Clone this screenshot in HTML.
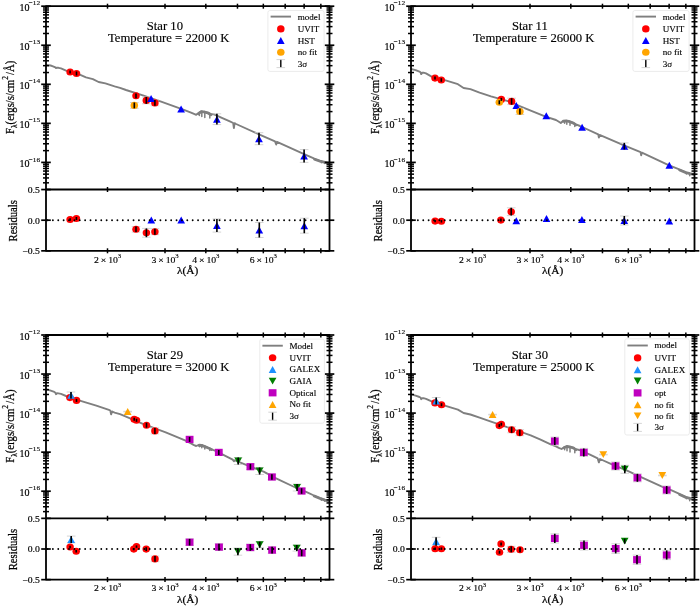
<!DOCTYPE html>
<html><head><meta charset="utf-8"><title>SED fits</title>
<style>html,body{margin:0;padding:0;background:#fff;}body{width:700px;height:606px;overflow:hidden;}svg{display:block;will-change:transform;}</style>
</head><body>
<svg width="700" height="606" viewBox="0 0 700 606" font-family='"Liberation Serif", serif' stroke-linejoin="round">
<rect width="700" height="606" fill="#fff"/>
<clipPath id="c00"><rect x="46" y="6.2" width="283.5" height="183.3"/></clipPath>
<g clip-path="url(#c00)">
<path d="M46 65 L50.6 65.5 L53 66.3 L55.4 67.4 L56 68.1 L57 67.6 L58.5 67.8 L61 68.4 L66.6 70.8 L80.3 74.9 L86 77.4 L92.9 79.1 L98.6 82 L105.4 83.4 L114.6 86.3 L120 87.8 L126 90 L142.9 95.4 L161.1 101.7 L184 109.9 L191 112.6 L194 113.9 L196.2 114.8 L198.2 113.2 L201 111.2 L203.8 111.4 L207.8 112.4 L211 114.2 L213.4 114.2 L215.8 115.2 L221.3 117.7 L230.4 121.7 L233.2 123 L233.9 128 L234.6 123.2 L236.1 124 L259 134.3 L275 141.3 L276.2 144.5 L277 141.8 L304.1 154.1 L314.4 158.7 L320 160.7 L325 162 L329.5 163" fill="none" stroke="#7f7f7f" stroke-width="1.9" stroke-linejoin="round"/>
<path d="M198.2 113.9 L201 111.9 L203.8 112.1 L207.8 113.1 L211 114.9" fill="none" stroke="#7f7f7f" stroke-width="2.4" stroke-linejoin="round" stroke-linecap="round"/>
<path d="M314.4 159.4 L320 161.4 L325 162.7 L329.5 163.7" fill="none" stroke="#7f7f7f" stroke-width="2.4" stroke-linejoin="round" stroke-linecap="round"/>
<line x1="199.4" y1="112.3" x2="199.4" y2="115.4" stroke="#7f7f7f" stroke-width="1.5" stroke-linecap="round"/>
<line x1="201.8" y1="111.2" x2="201.8" y2="116.6" stroke="#7f7f7f" stroke-width="1.5" stroke-linecap="round"/>
<line x1="204.8" y1="111.5" x2="204.8" y2="117.6" stroke="#7f7f7f" stroke-width="1.5" stroke-linecap="round"/>
<line x1="209.8" y1="113.6" x2="209.8" y2="118" stroke="#7f7f7f" stroke-width="1.5" stroke-linecap="round"/>
<line x1="321.4" y1="161" x2="321.4" y2="162.8" stroke="#7f7f7f" stroke-width="1.5" stroke-linecap="round"/>
<line x1="324.7" y1="162" x2="324.7" y2="163.6" stroke="#7f7f7f" stroke-width="1.5" stroke-linecap="round"/>
</g>
<line x1="142" y1="97" x2="150.6" y2="97" stroke="#d0d0d0" stroke-width="0.9"/><line x1="142" y1="103.8" x2="150.6" y2="103.8" stroke="#d0d0d0" stroke-width="0.9"/>
<line x1="150.6" y1="100" x2="159.2" y2="100" stroke="#d0d0d0" stroke-width="0.9"/><line x1="150.6" y1="105.8" x2="159.2" y2="105.8" stroke="#d0d0d0" stroke-width="0.9"/>
<line x1="212.6" y1="113.8" x2="221.2" y2="113.8" stroke="#d0d0d0" stroke-width="0.9"/><line x1="212.6" y1="124.6" x2="221.2" y2="124.6" stroke="#d0d0d0" stroke-width="0.9"/>
<line x1="254.7" y1="132.7" x2="263.3" y2="132.7" stroke="#d0d0d0" stroke-width="0.9"/><line x1="254.7" y1="144.7" x2="263.3" y2="144.7" stroke="#d0d0d0" stroke-width="0.9"/>
<line x1="299.8" y1="149.6" x2="308.4" y2="149.6" stroke="#d0d0d0" stroke-width="0.9"/><line x1="299.8" y1="162.4" x2="308.4" y2="162.4" stroke="#d0d0d0" stroke-width="0.9"/>
<line x1="130" y1="102.5" x2="138.6" y2="102.5" stroke="#d0d0d0" stroke-width="0.9"/><line x1="130" y1="108.3" x2="138.6" y2="108.3" stroke="#d0d0d0" stroke-width="0.9"/>
<ellipse cx="70.1" cy="72" rx="3.75" ry="3.55" fill="#ff0000"/>
<ellipse cx="76.5" cy="73.5" rx="3.75" ry="3.55" fill="#ff0000"/>
<ellipse cx="136" cy="95.8" rx="3.75" ry="3.55" fill="#ff0000"/>
<ellipse cx="146.3" cy="100.4" rx="3.75" ry="3.55" fill="#ff0000"/>
<ellipse cx="154.9" cy="102.9" rx="3.75" ry="3.55" fill="#ff0000"/>
<path d="M151.1 94.9L154.95 101.9L147.25 101.9Z" fill="#0000ff"/>
<path d="M181.1 105.6L184.95 112.6L177.25 112.6Z" fill="#0000ff"/>
<path d="M216.9 115.7L220.75 122.7L213.05 122.7Z" fill="#0000ff"/>
<path d="M259 135.2L262.85 142.2L255.15 142.2Z" fill="#0000ff"/>
<path d="M304.1 152.5L307.95 159.5L300.25 159.5Z" fill="#0000ff"/>
<ellipse cx="134.3" cy="105.4" rx="3.75" ry="3.55" fill="#ffa500"/>
<line x1="70.1" y1="70.5" x2="70.1" y2="73.5" stroke="#000" stroke-width="1.6"/>
<line x1="76.5" y1="71.5" x2="76.5" y2="75.5" stroke="#000" stroke-width="1.6"/>
<line x1="136" y1="93.4" x2="136" y2="98.2" stroke="#000" stroke-width="1.6"/>
<line x1="146.3" y1="97" x2="146.3" y2="103.8" stroke="#000" stroke-width="1.6"/>
<line x1="154.9" y1="100" x2="154.9" y2="105.8" stroke="#000" stroke-width="1.6"/>
<line x1="216.9" y1="113.8" x2="216.9" y2="124.6" stroke="#000" stroke-width="1.6"/>
<line x1="259" y1="132.7" x2="259" y2="144.7" stroke="#000" stroke-width="1.6"/>
<line x1="304.1" y1="149.6" x2="304.1" y2="162.4" stroke="#000" stroke-width="1.6"/>
<line x1="134.3" y1="102.5" x2="134.3" y2="108.3" stroke="#000" stroke-width="1.6"/>
<line x1="131.7" y1="226.5" x2="140.3" y2="226.5" stroke="#d0d0d0" stroke-width="0.9"/><line x1="131.7" y1="232.1" x2="140.3" y2="232.1" stroke="#d0d0d0" stroke-width="0.9"/>
<line x1="142.1" y1="228.4" x2="150.7" y2="228.4" stroke="#d0d0d0" stroke-width="0.9"/><line x1="142.1" y1="237.2" x2="150.7" y2="237.2" stroke="#d0d0d0" stroke-width="0.9"/>
<line x1="150.6" y1="228.7" x2="159.2" y2="228.7" stroke="#d0d0d0" stroke-width="0.9"/><line x1="150.6" y1="234.7" x2="159.2" y2="234.7" stroke="#d0d0d0" stroke-width="0.9"/>
<line x1="212.6" y1="218.9" x2="221.2" y2="218.9" stroke="#d0d0d0" stroke-width="0.9"/><line x1="212.6" y1="232.1" x2="221.2" y2="232.1" stroke="#d0d0d0" stroke-width="0.9"/>
<line x1="255" y1="222.5" x2="263.6" y2="222.5" stroke="#d0d0d0" stroke-width="0.9"/><line x1="255" y1="237.5" x2="263.6" y2="237.5" stroke="#d0d0d0" stroke-width="0.9"/>
<line x1="300" y1="218.2" x2="308.6" y2="218.2" stroke="#d0d0d0" stroke-width="0.9"/><line x1="300" y1="233.2" x2="308.6" y2="233.2" stroke="#d0d0d0" stroke-width="0.9"/>
<ellipse cx="70.1" cy="219.5" rx="3.75" ry="3.55" fill="#ff0000"/>
<ellipse cx="76.4" cy="218.5" rx="3.75" ry="3.55" fill="#ff0000"/>
<ellipse cx="136" cy="229.3" rx="3.75" ry="3.55" fill="#ff0000"/>
<ellipse cx="146.4" cy="232.8" rx="3.75" ry="3.55" fill="#ff0000"/>
<ellipse cx="154.9" cy="231.7" rx="3.75" ry="3.55" fill="#ff0000"/>
<path d="M151.3 216.5L155.15 223.5L147.45 223.5Z" fill="#0000ff"/>
<path d="M181.2 216.5L185.05 223.5L177.35 223.5Z" fill="#0000ff"/>
<path d="M216.9 222L220.75 229L213.05 229Z" fill="#0000ff"/>
<path d="M259.3 226.5L263.15 233.5L255.45 233.5Z" fill="#0000ff"/>
<path d="M304.3 222.2L308.15 229.2L300.45 229.2Z" fill="#0000ff"/>
<line x1="70.1" y1="218.3" x2="70.1" y2="220.7" stroke="#000" stroke-width="1.6"/>
<line x1="76.4" y1="217" x2="76.4" y2="220" stroke="#000" stroke-width="1.6"/>
<line x1="136" y1="226.5" x2="136" y2="232.1" stroke="#000" stroke-width="1.6"/>
<line x1="146.4" y1="228.4" x2="146.4" y2="237.2" stroke="#000" stroke-width="1.6"/>
<line x1="154.9" y1="228.7" x2="154.9" y2="234.7" stroke="#000" stroke-width="1.6"/>
<line x1="216.9" y1="218.9" x2="216.9" y2="232.1" stroke="#000" stroke-width="1.6"/>
<line x1="259.3" y1="222.5" x2="259.3" y2="237.5" stroke="#000" stroke-width="1.6"/>
<line x1="304.3" y1="218.2" x2="304.3" y2="233.2" stroke="#000" stroke-width="1.6"/>
<line x1="46" y1="220.2" x2="329.5" y2="220.2" stroke="#000" stroke-width="1.85" stroke-linecap="round" stroke-dasharray="0.01 5.367" stroke-dashoffset="-1.5"/>
<g stroke="#000"><line x1="41.2" y1="6.2" x2="50.8" y2="6.2" stroke-width="1.7"/><line x1="324.7" y1="6.2" x2="334.3" y2="6.2" stroke-width="1.7"/><line x1="41.2" y1="45.25" x2="50.8" y2="45.25" stroke-width="1.7"/><line x1="324.7" y1="45.25" x2="334.3" y2="45.25" stroke-width="1.7"/><line x1="41.2" y1="84.3" x2="50.8" y2="84.3" stroke-width="1.7"/><line x1="324.7" y1="84.3" x2="334.3" y2="84.3" stroke-width="1.7"/><line x1="41.2" y1="123.35" x2="50.8" y2="123.35" stroke-width="1.7"/><line x1="324.7" y1="123.35" x2="334.3" y2="123.35" stroke-width="1.7"/><line x1="41.2" y1="162.4" x2="50.8" y2="162.4" stroke-width="1.7"/><line x1="324.7" y1="162.4" x2="334.3" y2="162.4" stroke-width="1.7"/><line x1="43" y1="33.49" x2="49" y2="33.49" stroke-width="1.5"/><line x1="326.5" y1="33.49" x2="332.5" y2="33.49" stroke-width="1.5"/><line x1="43" y1="26.62" x2="49" y2="26.62" stroke-width="1.5"/><line x1="326.5" y1="26.62" x2="332.5" y2="26.62" stroke-width="1.5"/><line x1="43" y1="21.74" x2="49" y2="21.74" stroke-width="1.5"/><line x1="326.5" y1="21.74" x2="332.5" y2="21.74" stroke-width="1.5"/><line x1="43" y1="17.96" x2="49" y2="17.96" stroke-width="1.5"/><line x1="326.5" y1="17.96" x2="332.5" y2="17.96" stroke-width="1.5"/><line x1="43" y1="14.86" x2="49" y2="14.86" stroke-width="1.5"/><line x1="326.5" y1="14.86" x2="332.5" y2="14.86" stroke-width="1.5"/><line x1="43" y1="12.25" x2="49" y2="12.25" stroke-width="1.5"/><line x1="326.5" y1="12.25" x2="332.5" y2="12.25" stroke-width="1.5"/><line x1="43" y1="9.98" x2="49" y2="9.98" stroke-width="1.5"/><line x1="326.5" y1="9.98" x2="332.5" y2="9.98" stroke-width="1.5"/><line x1="43" y1="7.99" x2="49" y2="7.99" stroke-width="1.5"/><line x1="326.5" y1="7.99" x2="332.5" y2="7.99" stroke-width="1.5"/><line x1="43" y1="72.54" x2="49" y2="72.54" stroke-width="1.5"/><line x1="326.5" y1="72.54" x2="332.5" y2="72.54" stroke-width="1.5"/><line x1="43" y1="65.67" x2="49" y2="65.67" stroke-width="1.5"/><line x1="326.5" y1="65.67" x2="332.5" y2="65.67" stroke-width="1.5"/><line x1="43" y1="60.79" x2="49" y2="60.79" stroke-width="1.5"/><line x1="326.5" y1="60.79" x2="332.5" y2="60.79" stroke-width="1.5"/><line x1="43" y1="57.01" x2="49" y2="57.01" stroke-width="1.5"/><line x1="326.5" y1="57.01" x2="332.5" y2="57.01" stroke-width="1.5"/><line x1="43" y1="53.91" x2="49" y2="53.91" stroke-width="1.5"/><line x1="326.5" y1="53.91" x2="332.5" y2="53.91" stroke-width="1.5"/><line x1="43" y1="51.3" x2="49" y2="51.3" stroke-width="1.5"/><line x1="326.5" y1="51.3" x2="332.5" y2="51.3" stroke-width="1.5"/><line x1="43" y1="49.03" x2="49" y2="49.03" stroke-width="1.5"/><line x1="326.5" y1="49.03" x2="332.5" y2="49.03" stroke-width="1.5"/><line x1="43" y1="47.04" x2="49" y2="47.04" stroke-width="1.5"/><line x1="326.5" y1="47.04" x2="332.5" y2="47.04" stroke-width="1.5"/><line x1="43" y1="111.59" x2="49" y2="111.59" stroke-width="1.5"/><line x1="326.5" y1="111.59" x2="332.5" y2="111.59" stroke-width="1.5"/><line x1="43" y1="104.72" x2="49" y2="104.72" stroke-width="1.5"/><line x1="326.5" y1="104.72" x2="332.5" y2="104.72" stroke-width="1.5"/><line x1="43" y1="99.84" x2="49" y2="99.84" stroke-width="1.5"/><line x1="326.5" y1="99.84" x2="332.5" y2="99.84" stroke-width="1.5"/><line x1="43" y1="96.06" x2="49" y2="96.06" stroke-width="1.5"/><line x1="326.5" y1="96.06" x2="332.5" y2="96.06" stroke-width="1.5"/><line x1="43" y1="92.96" x2="49" y2="92.96" stroke-width="1.5"/><line x1="326.5" y1="92.96" x2="332.5" y2="92.96" stroke-width="1.5"/><line x1="43" y1="90.35" x2="49" y2="90.35" stroke-width="1.5"/><line x1="326.5" y1="90.35" x2="332.5" y2="90.35" stroke-width="1.5"/><line x1="43" y1="88.08" x2="49" y2="88.08" stroke-width="1.5"/><line x1="326.5" y1="88.08" x2="332.5" y2="88.08" stroke-width="1.5"/><line x1="43" y1="86.09" x2="49" y2="86.09" stroke-width="1.5"/><line x1="326.5" y1="86.09" x2="332.5" y2="86.09" stroke-width="1.5"/><line x1="43" y1="150.64" x2="49" y2="150.64" stroke-width="1.5"/><line x1="326.5" y1="150.64" x2="332.5" y2="150.64" stroke-width="1.5"/><line x1="43" y1="143.77" x2="49" y2="143.77" stroke-width="1.5"/><line x1="326.5" y1="143.77" x2="332.5" y2="143.77" stroke-width="1.5"/><line x1="43" y1="138.89" x2="49" y2="138.89" stroke-width="1.5"/><line x1="326.5" y1="138.89" x2="332.5" y2="138.89" stroke-width="1.5"/><line x1="43" y1="135.11" x2="49" y2="135.11" stroke-width="1.5"/><line x1="326.5" y1="135.11" x2="332.5" y2="135.11" stroke-width="1.5"/><line x1="43" y1="132.01" x2="49" y2="132.01" stroke-width="1.5"/><line x1="326.5" y1="132.01" x2="332.5" y2="132.01" stroke-width="1.5"/><line x1="43" y1="129.4" x2="49" y2="129.4" stroke-width="1.5"/><line x1="326.5" y1="129.4" x2="332.5" y2="129.4" stroke-width="1.5"/><line x1="43" y1="127.13" x2="49" y2="127.13" stroke-width="1.5"/><line x1="326.5" y1="127.13" x2="332.5" y2="127.13" stroke-width="1.5"/><line x1="43" y1="125.14" x2="49" y2="125.14" stroke-width="1.5"/><line x1="326.5" y1="125.14" x2="332.5" y2="125.14" stroke-width="1.5"/><line x1="43" y1="182.82" x2="49" y2="182.82" stroke-width="1.5"/><line x1="326.5" y1="182.82" x2="332.5" y2="182.82" stroke-width="1.5"/><line x1="43" y1="177.94" x2="49" y2="177.94" stroke-width="1.5"/><line x1="326.5" y1="177.94" x2="332.5" y2="177.94" stroke-width="1.5"/><line x1="43" y1="174.16" x2="49" y2="174.16" stroke-width="1.5"/><line x1="326.5" y1="174.16" x2="332.5" y2="174.16" stroke-width="1.5"/><line x1="43" y1="171.06" x2="49" y2="171.06" stroke-width="1.5"/><line x1="326.5" y1="171.06" x2="332.5" y2="171.06" stroke-width="1.5"/><line x1="43" y1="168.45" x2="49" y2="168.45" stroke-width="1.5"/><line x1="326.5" y1="168.45" x2="332.5" y2="168.45" stroke-width="1.5"/><line x1="43" y1="166.18" x2="49" y2="166.18" stroke-width="1.5"/><line x1="326.5" y1="166.18" x2="332.5" y2="166.18" stroke-width="1.5"/><line x1="43" y1="164.19" x2="49" y2="164.19" stroke-width="1.5"/><line x1="326.5" y1="164.19" x2="332.5" y2="164.19" stroke-width="1.5"/><line x1="41.2" y1="189.55" x2="50.8" y2="189.55" stroke-width="1.7"/><line x1="324.7" y1="189.55" x2="334.3" y2="189.55" stroke-width="1.7"/><line x1="41.2" y1="220.2" x2="50.8" y2="220.2" stroke-width="1.7"/><line x1="324.7" y1="220.2" x2="334.3" y2="220.2" stroke-width="1.7"/><line x1="41.2" y1="250.85" x2="50.8" y2="250.85" stroke-width="1.7"/><line x1="324.7" y1="250.85" x2="334.3" y2="250.85" stroke-width="1.7"/><line x1="107.5" y1="3.7" x2="107.5" y2="8.7" stroke-width="1.5"/><line x1="107.5" y1="187" x2="107.5" y2="192" stroke-width="1.5"/><line x1="107.5" y1="248.3" x2="107.5" y2="253.3" stroke-width="1.5"/><line x1="165.01" y1="3.7" x2="165.01" y2="8.7" stroke-width="1.5"/><line x1="165.01" y1="187" x2="165.01" y2="192" stroke-width="1.5"/><line x1="165.01" y1="248.3" x2="165.01" y2="253.3" stroke-width="1.5"/><line x1="205.82" y1="3.7" x2="205.82" y2="8.7" stroke-width="1.5"/><line x1="205.82" y1="187" x2="205.82" y2="192" stroke-width="1.5"/><line x1="205.82" y1="248.3" x2="205.82" y2="253.3" stroke-width="1.5"/><line x1="237.47" y1="3.7" x2="237.47" y2="8.7" stroke-width="1.5"/><line x1="237.47" y1="187" x2="237.47" y2="192" stroke-width="1.5"/><line x1="237.47" y1="248.3" x2="237.47" y2="253.3" stroke-width="1.5"/><line x1="263.33" y1="3.7" x2="263.33" y2="8.7" stroke-width="1.5"/><line x1="263.33" y1="187" x2="263.33" y2="192" stroke-width="1.5"/><line x1="263.33" y1="248.3" x2="263.33" y2="253.3" stroke-width="1.5"/><line x1="285.19" y1="3.7" x2="285.19" y2="8.7" stroke-width="1.5"/><line x1="285.19" y1="187" x2="285.19" y2="192" stroke-width="1.5"/><line x1="285.19" y1="248.3" x2="285.19" y2="253.3" stroke-width="1.5"/><line x1="304.13" y1="3.7" x2="304.13" y2="8.7" stroke-width="1.5"/><line x1="304.13" y1="187" x2="304.13" y2="192" stroke-width="1.5"/><line x1="304.13" y1="248.3" x2="304.13" y2="253.3" stroke-width="1.5"/><line x1="320.84" y1="3.7" x2="320.84" y2="8.7" stroke-width="1.5"/><line x1="320.84" y1="187" x2="320.84" y2="192" stroke-width="1.5"/><line x1="320.84" y1="248.3" x2="320.84" y2="253.3" stroke-width="1.5"/></g>
<path d="M46 6.2H329.5V250.8H46Z M46 189.5H329.5" fill="none" stroke="#000" stroke-width="1.8"/>
<text transform="translate(29.5,10.7) scale(1.0,1)" font-size="10" text-anchor="end" fill="#000" stroke="#000" stroke-width="0.18">10</text>
<text transform="translate(40.2,5.3) scale(1.08,1)" font-size="6.8" text-anchor="end" fill="#000" stroke="#000" stroke-width="0.1">&#8722;12</text>
<text transform="translate(29.5,49.75) scale(1.0,1)" font-size="10" text-anchor="end" fill="#000" stroke="#000" stroke-width="0.18">10</text>
<text transform="translate(40.2,44.35) scale(1.08,1)" font-size="6.8" text-anchor="end" fill="#000" stroke="#000" stroke-width="0.1">&#8722;13</text>
<text transform="translate(29.5,88.8) scale(1.0,1)" font-size="10" text-anchor="end" fill="#000" stroke="#000" stroke-width="0.18">10</text>
<text transform="translate(40.2,83.4) scale(1.08,1)" font-size="6.8" text-anchor="end" fill="#000" stroke="#000" stroke-width="0.1">&#8722;14</text>
<text transform="translate(29.5,127.85) scale(1.0,1)" font-size="10" text-anchor="end" fill="#000" stroke="#000" stroke-width="0.18">10</text>
<text transform="translate(40.2,122.45) scale(1.08,1)" font-size="6.8" text-anchor="end" fill="#000" stroke="#000" stroke-width="0.1">&#8722;15</text>
<text transform="translate(29.5,166.9) scale(1.0,1)" font-size="10" text-anchor="end" fill="#000" stroke="#000" stroke-width="0.18">10</text>
<text transform="translate(40.2,161.5) scale(1.08,1)" font-size="6.8" text-anchor="end" fill="#000" stroke="#000" stroke-width="0.1">&#8722;16</text>
<text transform="translate(39.8,192.85) scale(1.08,1)" font-size="9" text-anchor="end" fill="#000" stroke="#000" stroke-width="0.18">0.5</text>
<text transform="translate(39.8,223.5) scale(1.08,1)" font-size="9" text-anchor="end" fill="#000" stroke="#000" stroke-width="0.18">0.0</text>
<text transform="translate(39.8,254.15) scale(1.08,1)" font-size="9" text-anchor="end" fill="#000" stroke="#000" stroke-width="0.18">&#8722;0.5</text>
<text transform="translate(105.9,262.6) scale(1.08,1)" font-size="9" text-anchor="middle" fill="#000" stroke="#000" stroke-width="0.15">2&#8201;&#215;&#8201;10</text>
<text transform="translate(117.7,257.8) scale(1.08,1)" font-size="6.3" text-anchor="start" fill="#000" stroke="#000" stroke-width="0.08">3</text>
<text transform="translate(163.41,262.6) scale(1.08,1)" font-size="9" text-anchor="middle" fill="#000" stroke="#000" stroke-width="0.15">3&#8201;&#215;&#8201;10</text>
<text transform="translate(175.21,257.8) scale(1.08,1)" font-size="6.3" text-anchor="start" fill="#000" stroke="#000" stroke-width="0.08">3</text>
<text transform="translate(204.22,262.6) scale(1.08,1)" font-size="9" text-anchor="middle" fill="#000" stroke="#000" stroke-width="0.15">4&#8201;&#215;&#8201;10</text>
<text transform="translate(216.02,257.8) scale(1.08,1)" font-size="6.3" text-anchor="start" fill="#000" stroke="#000" stroke-width="0.08">3</text>
<text transform="translate(261.73,262.6) scale(1.08,1)" font-size="9" text-anchor="middle" fill="#000" stroke="#000" stroke-width="0.15">6&#8201;&#215;&#8201;10</text>
<text transform="translate(273.53,257.8) scale(1.08,1)" font-size="6.3" text-anchor="start" fill="#000" stroke="#000" stroke-width="0.08">3</text>
<text transform="translate(187.7,274.3) scale(1.08,1)" font-size="10.5" text-anchor="middle" fill="#000" stroke="#000" stroke-width="0.22">&#955;(&#197;)</text>
<text transform="translate(13.9,97.3) rotate(-90) scale(1,1.12)" font-size="10.75" text-anchor="middle" stroke="#000" stroke-width="0.22">F<tspan font-size="7.3" dy="2.5">&#955;</tspan><tspan dy="-2.5">(ergs/s/cm</tspan><tspan font-size="7.5" dy="-5.4">2</tspan><tspan dy="5.4" dx="1.1">/&#197;)</tspan></text>
<text transform="translate(17.2,220.8) rotate(-90) scale(1,1.12)" font-size="10.6" text-anchor="middle" stroke="#000" stroke-width="0.22">Residuals</text>
<text transform="translate(164.9,30.4) scale(1.09,1)" font-size="11.6" text-anchor="middle" fill="#000" stroke="#000" stroke-width="0.14">Star 10</text>
<text transform="translate(168.7,41.7) scale(1.095,1)" font-size="11.6" text-anchor="middle" fill="#000" stroke="#000" stroke-width="0.14">Temperature = 22000 K</text>
<rect x="267.9" y="10.5" width="56.2" height="60.9" rx="2" fill="#fff" fill-opacity="0.8" stroke="#e6e6e6" stroke-width="0.8"/>
<line x1="270.6" y1="16.6" x2="291" y2="16.6" stroke="#7f7f7f" stroke-width="1.9"/>
<text transform="translate(297.7,19.5) scale(1.11,1)" font-size="8.2" text-anchor="start" fill="#000" stroke="#000" stroke-width="0.12">model</text>
<ellipse cx="280.8" cy="28.9" rx="3.75" ry="3.55" fill="#ff0000"/>
<text transform="translate(297.7,31.8) scale(1.11,1)" font-size="8.2" text-anchor="start" fill="#000" stroke="#000" stroke-width="0.12">UVIT</text>
<path d="M280.8 37.1L284.65 44.1L276.95 44.1Z" fill="#0000ff"/>
<text transform="translate(297.7,43.5) scale(1.11,1)" font-size="8.2" text-anchor="start" fill="#000" stroke="#000" stroke-width="0.12">HST</text>
<ellipse cx="280.8" cy="52.3" rx="3.75" ry="3.55" fill="#ffa500"/>
<text transform="translate(297.7,55.2) scale(1.11,1)" font-size="8.2" text-anchor="start" fill="#000" stroke="#000" stroke-width="0.12">no fit</text>
<line x1="280.8" y1="59.6" x2="280.8" y2="67.6" stroke="#000" stroke-width="1.4"/><line x1="276.5" y1="59.6" x2="285.1" y2="59.6" stroke="#d0d0d0" stroke-width="0.9"/><line x1="276.5" y1="67.6" x2="285.1" y2="67.6" stroke="#d0d0d0" stroke-width="0.9"/>
<text transform="translate(297.7,66.5) scale(1.11,1)" font-size="8.2" text-anchor="start" fill="#000" stroke="#000" stroke-width="0.12">3&#963;</text>
<clipPath id="c3650"><rect x="411" y="6.2" width="283.5" height="183.3"/></clipPath>
<g clip-path="url(#c3650)">
<path d="M411 68.9 L415.6 70.1 L419.5 71.6 L420.5 72.2 L421.2 74.1 L422.2 72.8 L423.5 72.6 L426 73.4 L431.6 76.6 L446.4 80.6 L457.9 84.2 L463.6 88 L470.4 89.1 L479.6 92.6 L491 96.3 L507.9 101.1 L522.7 107.4 L545.6 116.6 L556 120 L558.5 121.5 L560.8 123 L563.2 120.8 L566 120.4 L568.8 121 L572.8 122.4 L576 124.4 L580 126 L598.2 134.4 L598.9 137.5 L599.6 134.9 L624 145.4 L640.6 152.1 L641.2 155.3 L641.9 152.6 L669.1 165.3 L680 169.7 L686 172.2 L690 173.2 L694.5 174.2" fill="none" stroke="#7f7f7f" stroke-width="1.9" stroke-linejoin="round"/>
<path d="M563.2 121.5 L566 121.1 L568.8 121.7 L572.8 123.1 L576 125.1" fill="none" stroke="#7f7f7f" stroke-width="2.4" stroke-linejoin="round" stroke-linecap="round"/>
<path d="M679.5 170.2 L686 172.9 L690 173.9 L694.5 174.9" fill="none" stroke="#7f7f7f" stroke-width="2.4" stroke-linejoin="round" stroke-linecap="round"/>
<line x1="564.6" y1="121" x2="564.6" y2="123.2" stroke="#7f7f7f" stroke-width="1.5" stroke-linecap="round"/>
<line x1="566.8" y1="120.5" x2="566.8" y2="124.2" stroke="#7f7f7f" stroke-width="1.5" stroke-linecap="round"/>
<line x1="570" y1="121.5" x2="570" y2="125.2" stroke="#7f7f7f" stroke-width="1.5" stroke-linecap="round"/>
<line x1="574.8" y1="123.6" x2="574.8" y2="126.6" stroke="#7f7f7f" stroke-width="1.5" stroke-linecap="round"/>
<line x1="686.4" y1="172.4" x2="686.4" y2="173.9" stroke="#7f7f7f" stroke-width="1.5" stroke-linecap="round"/>
<line x1="689.7" y1="173.2" x2="689.7" y2="175.7" stroke="#7f7f7f" stroke-width="1.5" stroke-linecap="round"/>
</g>
<line x1="507.3" y1="98.2" x2="515.9" y2="98.2" stroke="#d0d0d0" stroke-width="0.9"/><line x1="507.3" y1="104.6" x2="515.9" y2="104.6" stroke="#d0d0d0" stroke-width="0.9"/>
<line x1="620" y1="142.9" x2="628.6" y2="142.9" stroke="#d0d0d0" stroke-width="0.9"/><line x1="620" y1="149.5" x2="628.6" y2="149.5" stroke="#d0d0d0" stroke-width="0.9"/>
<line x1="515.6" y1="108.5" x2="524.2" y2="108.5" stroke="#d0d0d0" stroke-width="0.9"/><line x1="515.6" y1="114.5" x2="524.2" y2="114.5" stroke="#d0d0d0" stroke-width="0.9"/>
<ellipse cx="435" cy="78.1" rx="3.75" ry="3.55" fill="#ff0000"/>
<ellipse cx="441.3" cy="80" rx="3.75" ry="3.55" fill="#ff0000"/>
<ellipse cx="501.3" cy="99.4" rx="3.75" ry="3.55" fill="#ff0000"/>
<ellipse cx="511.6" cy="101.4" rx="3.75" ry="3.55" fill="#ff0000"/>
<path d="M516.3 101.9L520.15 108.9L512.45 108.9Z" fill="#0000ff"/>
<path d="M546.3 112.3L550.15 119.3L542.45 119.3Z" fill="#0000ff"/>
<path d="M582.1 123.8L585.95 130.8L578.25 130.8Z" fill="#0000ff"/>
<path d="M624.3 142.7L628.15 149.7L620.45 149.7Z" fill="#0000ff"/>
<path d="M669.3 161.8L673.15 168.8L665.45 168.8Z" fill="#0000ff"/>
<ellipse cx="499.3" cy="102.3" rx="3.75" ry="3.55" fill="#ffa500"/>
<ellipse cx="519.9" cy="111.5" rx="3.75" ry="3.55" fill="#ffa500"/>
<line x1="435" y1="76.6" x2="435" y2="79.6" stroke="#000" stroke-width="1.6"/>
<line x1="441.3" y1="78.2" x2="441.3" y2="81.8" stroke="#000" stroke-width="1.6"/>
<line x1="501.3" y1="97.9" x2="501.3" y2="100.9" stroke="#000" stroke-width="1.6"/>
<line x1="511.6" y1="98.2" x2="511.6" y2="104.6" stroke="#000" stroke-width="1.6"/>
<line x1="624.3" y1="142.9" x2="624.3" y2="149.5" stroke="#000" stroke-width="1.6"/>
<line x1="499.3" y1="100.3" x2="499.3" y2="104.3" stroke="#000" stroke-width="1.6"/>
<line x1="519.9" y1="108.5" x2="519.9" y2="114.5" stroke="#000" stroke-width="1.6"/>
<line x1="506.9" y1="207.8" x2="515.5" y2="207.8" stroke="#d0d0d0" stroke-width="0.9"/><line x1="506.9" y1="215.6" x2="515.5" y2="215.6" stroke="#d0d0d0" stroke-width="0.9"/>
<line x1="620" y1="216" x2="628.6" y2="216" stroke="#d0d0d0" stroke-width="0.9"/><line x1="620" y1="225" x2="628.6" y2="225" stroke="#d0d0d0" stroke-width="0.9"/>
<ellipse cx="435.1" cy="221.1" rx="3.75" ry="3.55" fill="#ff0000"/>
<ellipse cx="441.4" cy="221.3" rx="3.75" ry="3.55" fill="#ff0000"/>
<ellipse cx="500.9" cy="220.1" rx="3.75" ry="3.55" fill="#ff0000"/>
<ellipse cx="511.2" cy="211.7" rx="3.75" ry="3.55" fill="#ff0000"/>
<path d="M516.3 217.3L520.15 224.3L512.45 224.3Z" fill="#0000ff"/>
<path d="M546.5 215.1L550.35 222.1L542.65 222.1Z" fill="#0000ff"/>
<path d="M581.9 216.1L585.75 223.1L578.05 223.1Z" fill="#0000ff"/>
<path d="M624.3 217L628.15 224L620.45 224Z" fill="#0000ff"/>
<path d="M669.3 217.4L673.15 224.4L665.45 224.4Z" fill="#0000ff"/>
<line x1="435.1" y1="219.9" x2="435.1" y2="222.3" stroke="#000" stroke-width="1.6"/>
<line x1="441.4" y1="220.1" x2="441.4" y2="222.5" stroke="#000" stroke-width="1.6"/>
<line x1="500.9" y1="218.6" x2="500.9" y2="221.6" stroke="#000" stroke-width="1.6"/>
<line x1="511.2" y1="207.8" x2="511.2" y2="215.6" stroke="#000" stroke-width="1.6"/>
<line x1="624.3" y1="216" x2="624.3" y2="225" stroke="#000" stroke-width="1.6"/>
<line x1="411" y1="220.2" x2="694.5" y2="220.2" stroke="#000" stroke-width="1.85" stroke-linecap="round" stroke-dasharray="0.01 5.367" stroke-dashoffset="-1.5"/>
<g stroke="#000"><line x1="406.2" y1="6.2" x2="415.8" y2="6.2" stroke-width="1.7"/><line x1="689.7" y1="6.2" x2="699.3" y2="6.2" stroke-width="1.7"/><line x1="406.2" y1="45.25" x2="415.8" y2="45.25" stroke-width="1.7"/><line x1="689.7" y1="45.25" x2="699.3" y2="45.25" stroke-width="1.7"/><line x1="406.2" y1="84.3" x2="415.8" y2="84.3" stroke-width="1.7"/><line x1="689.7" y1="84.3" x2="699.3" y2="84.3" stroke-width="1.7"/><line x1="406.2" y1="123.35" x2="415.8" y2="123.35" stroke-width="1.7"/><line x1="689.7" y1="123.35" x2="699.3" y2="123.35" stroke-width="1.7"/><line x1="406.2" y1="162.4" x2="415.8" y2="162.4" stroke-width="1.7"/><line x1="689.7" y1="162.4" x2="699.3" y2="162.4" stroke-width="1.7"/><line x1="408" y1="33.49" x2="414" y2="33.49" stroke-width="1.5"/><line x1="691.5" y1="33.49" x2="697.5" y2="33.49" stroke-width="1.5"/><line x1="408" y1="26.62" x2="414" y2="26.62" stroke-width="1.5"/><line x1="691.5" y1="26.62" x2="697.5" y2="26.62" stroke-width="1.5"/><line x1="408" y1="21.74" x2="414" y2="21.74" stroke-width="1.5"/><line x1="691.5" y1="21.74" x2="697.5" y2="21.74" stroke-width="1.5"/><line x1="408" y1="17.96" x2="414" y2="17.96" stroke-width="1.5"/><line x1="691.5" y1="17.96" x2="697.5" y2="17.96" stroke-width="1.5"/><line x1="408" y1="14.86" x2="414" y2="14.86" stroke-width="1.5"/><line x1="691.5" y1="14.86" x2="697.5" y2="14.86" stroke-width="1.5"/><line x1="408" y1="12.25" x2="414" y2="12.25" stroke-width="1.5"/><line x1="691.5" y1="12.25" x2="697.5" y2="12.25" stroke-width="1.5"/><line x1="408" y1="9.98" x2="414" y2="9.98" stroke-width="1.5"/><line x1="691.5" y1="9.98" x2="697.5" y2="9.98" stroke-width="1.5"/><line x1="408" y1="7.99" x2="414" y2="7.99" stroke-width="1.5"/><line x1="691.5" y1="7.99" x2="697.5" y2="7.99" stroke-width="1.5"/><line x1="408" y1="72.54" x2="414" y2="72.54" stroke-width="1.5"/><line x1="691.5" y1="72.54" x2="697.5" y2="72.54" stroke-width="1.5"/><line x1="408" y1="65.67" x2="414" y2="65.67" stroke-width="1.5"/><line x1="691.5" y1="65.67" x2="697.5" y2="65.67" stroke-width="1.5"/><line x1="408" y1="60.79" x2="414" y2="60.79" stroke-width="1.5"/><line x1="691.5" y1="60.79" x2="697.5" y2="60.79" stroke-width="1.5"/><line x1="408" y1="57.01" x2="414" y2="57.01" stroke-width="1.5"/><line x1="691.5" y1="57.01" x2="697.5" y2="57.01" stroke-width="1.5"/><line x1="408" y1="53.91" x2="414" y2="53.91" stroke-width="1.5"/><line x1="691.5" y1="53.91" x2="697.5" y2="53.91" stroke-width="1.5"/><line x1="408" y1="51.3" x2="414" y2="51.3" stroke-width="1.5"/><line x1="691.5" y1="51.3" x2="697.5" y2="51.3" stroke-width="1.5"/><line x1="408" y1="49.03" x2="414" y2="49.03" stroke-width="1.5"/><line x1="691.5" y1="49.03" x2="697.5" y2="49.03" stroke-width="1.5"/><line x1="408" y1="47.04" x2="414" y2="47.04" stroke-width="1.5"/><line x1="691.5" y1="47.04" x2="697.5" y2="47.04" stroke-width="1.5"/><line x1="408" y1="111.59" x2="414" y2="111.59" stroke-width="1.5"/><line x1="691.5" y1="111.59" x2="697.5" y2="111.59" stroke-width="1.5"/><line x1="408" y1="104.72" x2="414" y2="104.72" stroke-width="1.5"/><line x1="691.5" y1="104.72" x2="697.5" y2="104.72" stroke-width="1.5"/><line x1="408" y1="99.84" x2="414" y2="99.84" stroke-width="1.5"/><line x1="691.5" y1="99.84" x2="697.5" y2="99.84" stroke-width="1.5"/><line x1="408" y1="96.06" x2="414" y2="96.06" stroke-width="1.5"/><line x1="691.5" y1="96.06" x2="697.5" y2="96.06" stroke-width="1.5"/><line x1="408" y1="92.96" x2="414" y2="92.96" stroke-width="1.5"/><line x1="691.5" y1="92.96" x2="697.5" y2="92.96" stroke-width="1.5"/><line x1="408" y1="90.35" x2="414" y2="90.35" stroke-width="1.5"/><line x1="691.5" y1="90.35" x2="697.5" y2="90.35" stroke-width="1.5"/><line x1="408" y1="88.08" x2="414" y2="88.08" stroke-width="1.5"/><line x1="691.5" y1="88.08" x2="697.5" y2="88.08" stroke-width="1.5"/><line x1="408" y1="86.09" x2="414" y2="86.09" stroke-width="1.5"/><line x1="691.5" y1="86.09" x2="697.5" y2="86.09" stroke-width="1.5"/><line x1="408" y1="150.64" x2="414" y2="150.64" stroke-width="1.5"/><line x1="691.5" y1="150.64" x2="697.5" y2="150.64" stroke-width="1.5"/><line x1="408" y1="143.77" x2="414" y2="143.77" stroke-width="1.5"/><line x1="691.5" y1="143.77" x2="697.5" y2="143.77" stroke-width="1.5"/><line x1="408" y1="138.89" x2="414" y2="138.89" stroke-width="1.5"/><line x1="691.5" y1="138.89" x2="697.5" y2="138.89" stroke-width="1.5"/><line x1="408" y1="135.11" x2="414" y2="135.11" stroke-width="1.5"/><line x1="691.5" y1="135.11" x2="697.5" y2="135.11" stroke-width="1.5"/><line x1="408" y1="132.01" x2="414" y2="132.01" stroke-width="1.5"/><line x1="691.5" y1="132.01" x2="697.5" y2="132.01" stroke-width="1.5"/><line x1="408" y1="129.4" x2="414" y2="129.4" stroke-width="1.5"/><line x1="691.5" y1="129.4" x2="697.5" y2="129.4" stroke-width="1.5"/><line x1="408" y1="127.13" x2="414" y2="127.13" stroke-width="1.5"/><line x1="691.5" y1="127.13" x2="697.5" y2="127.13" stroke-width="1.5"/><line x1="408" y1="125.14" x2="414" y2="125.14" stroke-width="1.5"/><line x1="691.5" y1="125.14" x2="697.5" y2="125.14" stroke-width="1.5"/><line x1="408" y1="182.82" x2="414" y2="182.82" stroke-width="1.5"/><line x1="691.5" y1="182.82" x2="697.5" y2="182.82" stroke-width="1.5"/><line x1="408" y1="177.94" x2="414" y2="177.94" stroke-width="1.5"/><line x1="691.5" y1="177.94" x2="697.5" y2="177.94" stroke-width="1.5"/><line x1="408" y1="174.16" x2="414" y2="174.16" stroke-width="1.5"/><line x1="691.5" y1="174.16" x2="697.5" y2="174.16" stroke-width="1.5"/><line x1="408" y1="171.06" x2="414" y2="171.06" stroke-width="1.5"/><line x1="691.5" y1="171.06" x2="697.5" y2="171.06" stroke-width="1.5"/><line x1="408" y1="168.45" x2="414" y2="168.45" stroke-width="1.5"/><line x1="691.5" y1="168.45" x2="697.5" y2="168.45" stroke-width="1.5"/><line x1="408" y1="166.18" x2="414" y2="166.18" stroke-width="1.5"/><line x1="691.5" y1="166.18" x2="697.5" y2="166.18" stroke-width="1.5"/><line x1="408" y1="164.19" x2="414" y2="164.19" stroke-width="1.5"/><line x1="691.5" y1="164.19" x2="697.5" y2="164.19" stroke-width="1.5"/><line x1="406.2" y1="189.55" x2="415.8" y2="189.55" stroke-width="1.7"/><line x1="689.7" y1="189.55" x2="699.3" y2="189.55" stroke-width="1.7"/><line x1="406.2" y1="220.2" x2="415.8" y2="220.2" stroke-width="1.7"/><line x1="689.7" y1="220.2" x2="699.3" y2="220.2" stroke-width="1.7"/><line x1="406.2" y1="250.85" x2="415.8" y2="250.85" stroke-width="1.7"/><line x1="689.7" y1="250.85" x2="699.3" y2="250.85" stroke-width="1.7"/><line x1="472.5" y1="3.7" x2="472.5" y2="8.7" stroke-width="1.5"/><line x1="472.5" y1="187" x2="472.5" y2="192" stroke-width="1.5"/><line x1="472.5" y1="248.3" x2="472.5" y2="253.3" stroke-width="1.5"/><line x1="530.01" y1="3.7" x2="530.01" y2="8.7" stroke-width="1.5"/><line x1="530.01" y1="187" x2="530.01" y2="192" stroke-width="1.5"/><line x1="530.01" y1="248.3" x2="530.01" y2="253.3" stroke-width="1.5"/><line x1="570.82" y1="3.7" x2="570.82" y2="8.7" stroke-width="1.5"/><line x1="570.82" y1="187" x2="570.82" y2="192" stroke-width="1.5"/><line x1="570.82" y1="248.3" x2="570.82" y2="253.3" stroke-width="1.5"/><line x1="602.47" y1="3.7" x2="602.47" y2="8.7" stroke-width="1.5"/><line x1="602.47" y1="187" x2="602.47" y2="192" stroke-width="1.5"/><line x1="602.47" y1="248.3" x2="602.47" y2="253.3" stroke-width="1.5"/><line x1="628.33" y1="3.7" x2="628.33" y2="8.7" stroke-width="1.5"/><line x1="628.33" y1="187" x2="628.33" y2="192" stroke-width="1.5"/><line x1="628.33" y1="248.3" x2="628.33" y2="253.3" stroke-width="1.5"/><line x1="650.19" y1="3.7" x2="650.19" y2="8.7" stroke-width="1.5"/><line x1="650.19" y1="187" x2="650.19" y2="192" stroke-width="1.5"/><line x1="650.19" y1="248.3" x2="650.19" y2="253.3" stroke-width="1.5"/><line x1="669.13" y1="3.7" x2="669.13" y2="8.7" stroke-width="1.5"/><line x1="669.13" y1="187" x2="669.13" y2="192" stroke-width="1.5"/><line x1="669.13" y1="248.3" x2="669.13" y2="253.3" stroke-width="1.5"/><line x1="685.84" y1="3.7" x2="685.84" y2="8.7" stroke-width="1.5"/><line x1="685.84" y1="187" x2="685.84" y2="192" stroke-width="1.5"/><line x1="685.84" y1="248.3" x2="685.84" y2="253.3" stroke-width="1.5"/></g>
<path d="M411 6.2H694.5V250.8H411Z M411 189.5H694.5" fill="none" stroke="#000" stroke-width="1.8"/>
<text transform="translate(394.5,10.7) scale(1.0,1)" font-size="10" text-anchor="end" fill="#000" stroke="#000" stroke-width="0.18">10</text>
<text transform="translate(405.2,5.3) scale(1.08,1)" font-size="6.8" text-anchor="end" fill="#000" stroke="#000" stroke-width="0.1">&#8722;12</text>
<text transform="translate(394.5,49.75) scale(1.0,1)" font-size="10" text-anchor="end" fill="#000" stroke="#000" stroke-width="0.18">10</text>
<text transform="translate(405.2,44.35) scale(1.08,1)" font-size="6.8" text-anchor="end" fill="#000" stroke="#000" stroke-width="0.1">&#8722;13</text>
<text transform="translate(394.5,88.8) scale(1.0,1)" font-size="10" text-anchor="end" fill="#000" stroke="#000" stroke-width="0.18">10</text>
<text transform="translate(405.2,83.4) scale(1.08,1)" font-size="6.8" text-anchor="end" fill="#000" stroke="#000" stroke-width="0.1">&#8722;14</text>
<text transform="translate(394.5,127.85) scale(1.0,1)" font-size="10" text-anchor="end" fill="#000" stroke="#000" stroke-width="0.18">10</text>
<text transform="translate(405.2,122.45) scale(1.08,1)" font-size="6.8" text-anchor="end" fill="#000" stroke="#000" stroke-width="0.1">&#8722;15</text>
<text transform="translate(394.5,166.9) scale(1.0,1)" font-size="10" text-anchor="end" fill="#000" stroke="#000" stroke-width="0.18">10</text>
<text transform="translate(405.2,161.5) scale(1.08,1)" font-size="6.8" text-anchor="end" fill="#000" stroke="#000" stroke-width="0.1">&#8722;16</text>
<text transform="translate(404.8,192.85) scale(1.08,1)" font-size="9" text-anchor="end" fill="#000" stroke="#000" stroke-width="0.18">0.5</text>
<text transform="translate(404.8,223.5) scale(1.08,1)" font-size="9" text-anchor="end" fill="#000" stroke="#000" stroke-width="0.18">0.0</text>
<text transform="translate(404.8,254.15) scale(1.08,1)" font-size="9" text-anchor="end" fill="#000" stroke="#000" stroke-width="0.18">&#8722;0.5</text>
<text transform="translate(470.9,262.6) scale(1.08,1)" font-size="9" text-anchor="middle" fill="#000" stroke="#000" stroke-width="0.15">2&#8201;&#215;&#8201;10</text>
<text transform="translate(482.7,257.8) scale(1.08,1)" font-size="6.3" text-anchor="start" fill="#000" stroke="#000" stroke-width="0.08">3</text>
<text transform="translate(528.41,262.6) scale(1.08,1)" font-size="9" text-anchor="middle" fill="#000" stroke="#000" stroke-width="0.15">3&#8201;&#215;&#8201;10</text>
<text transform="translate(540.21,257.8) scale(1.08,1)" font-size="6.3" text-anchor="start" fill="#000" stroke="#000" stroke-width="0.08">3</text>
<text transform="translate(569.22,262.6) scale(1.08,1)" font-size="9" text-anchor="middle" fill="#000" stroke="#000" stroke-width="0.15">4&#8201;&#215;&#8201;10</text>
<text transform="translate(581.02,257.8) scale(1.08,1)" font-size="6.3" text-anchor="start" fill="#000" stroke="#000" stroke-width="0.08">3</text>
<text transform="translate(626.73,262.6) scale(1.08,1)" font-size="9" text-anchor="middle" fill="#000" stroke="#000" stroke-width="0.15">6&#8201;&#215;&#8201;10</text>
<text transform="translate(638.53,257.8) scale(1.08,1)" font-size="6.3" text-anchor="start" fill="#000" stroke="#000" stroke-width="0.08">3</text>
<text transform="translate(552.7,274.3) scale(1.08,1)" font-size="10.5" text-anchor="middle" fill="#000" stroke="#000" stroke-width="0.22">&#955;(&#197;)</text>
<text transform="translate(378.9,97.3) rotate(-90) scale(1,1.12)" font-size="10.75" text-anchor="middle" stroke="#000" stroke-width="0.22">F<tspan font-size="7.3" dy="2.5">&#955;</tspan><tspan dy="-2.5">(ergs/s/cm</tspan><tspan font-size="7.5" dy="-5.4">2</tspan><tspan dy="5.4" dx="1.1">/&#197;)</tspan></text>
<text transform="translate(382.2,220.8) rotate(-90) scale(1,1.12)" font-size="10.6" text-anchor="middle" stroke="#000" stroke-width="0.22">Residuals</text>
<text transform="translate(529.9,30.4) scale(1.09,1)" font-size="11.6" text-anchor="middle" fill="#000" stroke="#000" stroke-width="0.14">Star 11</text>
<text transform="translate(533.7,41.7) scale(1.095,1)" font-size="11.6" text-anchor="middle" fill="#000" stroke="#000" stroke-width="0.14">Temperature = 26000 K</text>
<rect x="632.9" y="10.5" width="56.2" height="60.9" rx="2" fill="#fff" fill-opacity="0.8" stroke="#e6e6e6" stroke-width="0.8"/>
<line x1="635.6" y1="16.6" x2="656" y2="16.6" stroke="#7f7f7f" stroke-width="1.9"/>
<text transform="translate(662.7,19.5) scale(1.11,1)" font-size="8.2" text-anchor="start" fill="#000" stroke="#000" stroke-width="0.12">model</text>
<ellipse cx="645.8" cy="28.9" rx="3.75" ry="3.55" fill="#ff0000"/>
<text transform="translate(662.7,31.8) scale(1.11,1)" font-size="8.2" text-anchor="start" fill="#000" stroke="#000" stroke-width="0.12">UVIT</text>
<path d="M645.8 37.1L649.65 44.1L641.95 44.1Z" fill="#0000ff"/>
<text transform="translate(662.7,43.5) scale(1.11,1)" font-size="8.2" text-anchor="start" fill="#000" stroke="#000" stroke-width="0.12">HST</text>
<ellipse cx="645.8" cy="52.3" rx="3.75" ry="3.55" fill="#ffa500"/>
<text transform="translate(662.7,55.2) scale(1.11,1)" font-size="8.2" text-anchor="start" fill="#000" stroke="#000" stroke-width="0.12">no fit</text>
<line x1="645.8" y1="59.6" x2="645.8" y2="67.6" stroke="#000" stroke-width="1.4"/><line x1="641.5" y1="59.6" x2="650.1" y2="59.6" stroke="#d0d0d0" stroke-width="0.9"/><line x1="641.5" y1="67.6" x2="650.1" y2="67.6" stroke="#d0d0d0" stroke-width="0.9"/>
<text transform="translate(662.7,66.5) scale(1.11,1)" font-size="8.2" text-anchor="start" fill="#000" stroke="#000" stroke-width="0.12">3&#963;</text>
<clipPath id="c0328"><rect x="46" y="335" width="283.5" height="183.3"/></clipPath>
<g clip-path="url(#c0328)">
<path d="M46 389.4 L50 390.4 L54.3 391.9 L55.4 392.7 L56 394.2 L57 393.3 L58.5 393.4 L61 393.9 L66 396 L81.4 401.1 L96.3 405.7 L108.9 409.9 L110.3 410.5 L111.1 414.3 L112.2 411.5 L114.6 412.6 L120 414.2 L126 416.6 L142.9 423.9 L165.7 432.4 L176 436.6 L185 440.4 L191 443.4 L194 445.1 L196.2 446 L199 444.8 L201.8 445 L205 446.2 L209 447.8 L213 449.8 L215 450.6 L232.7 459.6 L233.9 461.3 L235 460.3 L243 463.6 L263.6 471.6 L276.1 478.4 L295.4 487.5 L306.1 491.8 L314 495.5 L320 498 L325 499.7 L329.5 500.8" fill="none" stroke="#7f7f7f" stroke-width="1.9" stroke-linejoin="round"/>
<path d="M199 445.5 L201.8 445.7 L205 446.9 L209 448.5 L211.5 449.7" fill="none" stroke="#7f7f7f" stroke-width="2.4" stroke-linejoin="round" stroke-linecap="round"/>
<path d="M314 496.2 L320 498.7 L325 500.4 L329.5 501.5" fill="none" stroke="#7f7f7f" stroke-width="2.4" stroke-linejoin="round" stroke-linecap="round"/>
<line x1="199.6" y1="444.8" x2="199.6" y2="446.8" stroke="#7f7f7f" stroke-width="1.5" stroke-linecap="round"/>
<line x1="201.8" y1="445" x2="201.8" y2="447.8" stroke="#7f7f7f" stroke-width="1.5" stroke-linecap="round"/>
<line x1="204.8" y1="446.1" x2="204.8" y2="449" stroke="#7f7f7f" stroke-width="1.5" stroke-linecap="round"/>
<line x1="209.8" y1="448.2" x2="209.8" y2="450.4" stroke="#7f7f7f" stroke-width="1.5" stroke-linecap="round"/>
<line x1="321.4" y1="498.5" x2="321.4" y2="500.2" stroke="#7f7f7f" stroke-width="1.5" stroke-linecap="round"/>
<line x1="324.8" y1="499.6" x2="324.8" y2="501.3" stroke="#7f7f7f" stroke-width="1.5" stroke-linecap="round"/>
</g>
<line x1="150.6" y1="427.9" x2="159.2" y2="427.9" stroke="#d0d0d0" stroke-width="0.9"/><line x1="150.6" y1="433.9" x2="159.2" y2="433.9" stroke="#d0d0d0" stroke-width="0.9"/>
<line x1="66.7" y1="392" x2="75.3" y2="392" stroke="#d0d0d0" stroke-width="0.9"/><line x1="66.7" y1="398.4" x2="75.3" y2="398.4" stroke="#d0d0d0" stroke-width="0.9"/>
<line x1="233.9" y1="457.5" x2="242.5" y2="457.5" stroke="#d0d0d0" stroke-width="0.9"/><line x1="233.9" y1="464.5" x2="242.5" y2="464.5" stroke="#d0d0d0" stroke-width="0.9"/>
<line x1="255.3" y1="467.5" x2="263.9" y2="467.5" stroke="#d0d0d0" stroke-width="0.9"/><line x1="255.3" y1="474.5" x2="263.9" y2="474.5" stroke="#d0d0d0" stroke-width="0.9"/>
<line x1="292.8" y1="484" x2="301.4" y2="484" stroke="#d0d0d0" stroke-width="0.9"/><line x1="292.8" y1="491" x2="301.4" y2="491" stroke="#d0d0d0" stroke-width="0.9"/>
<line x1="246.1" y1="463.9" x2="254.7" y2="463.9" stroke="#d0d0d0" stroke-width="0.9"/><line x1="246.1" y1="469.5" x2="254.7" y2="469.5" stroke="#d0d0d0" stroke-width="0.9"/>
<line x1="267.6" y1="474.2" x2="276.2" y2="474.2" stroke="#d0d0d0" stroke-width="0.9"/><line x1="267.6" y1="479.8" x2="276.2" y2="479.8" stroke="#d0d0d0" stroke-width="0.9"/>
<line x1="297.3" y1="488.2" x2="305.9" y2="488.2" stroke="#d0d0d0" stroke-width="0.9"/><line x1="297.3" y1="493.8" x2="305.9" y2="493.8" stroke="#d0d0d0" stroke-width="0.9"/>
<line x1="123.4" y1="411.3" x2="132" y2="411.3" stroke="#d0d0d0" stroke-width="0.9"/><line x1="123.4" y1="411.9" x2="132" y2="411.9" stroke="#d0d0d0" stroke-width="0.9"/>
<ellipse cx="69.9" cy="397.6" rx="3.75" ry="3.55" fill="#ff0000"/>
<ellipse cx="76.5" cy="400.4" rx="3.75" ry="3.55" fill="#ff0000"/>
<ellipse cx="134.2" cy="419.3" rx="3.75" ry="3.55" fill="#ff0000"/>
<ellipse cx="136.5" cy="420.3" rx="3.75" ry="3.55" fill="#ff0000"/>
<ellipse cx="146.5" cy="425.2" rx="3.75" ry="3.55" fill="#ff0000"/>
<ellipse cx="154.9" cy="430.9" rx="3.75" ry="3.55" fill="#ff0000"/>
<path d="M71 391.7L74.85 398.7L67.15 398.7Z" fill="#1e90ff"/>
<path d="M238.2 464.45L242.05 457.55L234.35 457.55Z" fill="#008000"/>
<path d="M259.6 474.45L263.45 467.55L255.75 467.55Z" fill="#008000"/>
<path d="M297.1 490.95L300.95 484.05L293.25 484.05Z" fill="#008000"/>
<rect x="185.7" y="435.8" width="7.8" height="7.2" fill="#bf00bf"/>
<rect x="214.9" y="448.8" width="7.8" height="7.2" fill="#bf00bf"/>
<rect x="246.5" y="463.1" width="7.8" height="7.2" fill="#bf00bf"/>
<rect x="268" y="473.4" width="7.8" height="7.2" fill="#bf00bf"/>
<rect x="297.7" y="487.4" width="7.8" height="7.2" fill="#bf00bf"/>
<path d="M127.7 408.1L131.55 415.1L123.85 415.1Z" fill="#ffa500"/>
<line x1="76.5" y1="398.9" x2="76.5" y2="401.9" stroke="#000" stroke-width="1.6"/>
<line x1="134.2" y1="417.8" x2="134.2" y2="420.8" stroke="#000" stroke-width="1.6"/>
<line x1="136.5" y1="418.8" x2="136.5" y2="421.8" stroke="#000" stroke-width="1.6"/>
<line x1="146.5" y1="422.7" x2="146.5" y2="427.7" stroke="#000" stroke-width="1.6"/>
<line x1="154.9" y1="427.9" x2="154.9" y2="433.9" stroke="#000" stroke-width="1.6"/>
<line x1="71" y1="392" x2="71" y2="398.4" stroke="#000" stroke-width="1.6"/>
<line x1="238.2" y1="457.5" x2="238.2" y2="464.5" stroke="#000" stroke-width="1.6"/>
<line x1="259.6" y1="467.5" x2="259.6" y2="474.5" stroke="#000" stroke-width="1.6"/>
<line x1="297.1" y1="484" x2="297.1" y2="491" stroke="#000" stroke-width="1.6"/>
<line x1="189.6" y1="436.9" x2="189.6" y2="441.9" stroke="#000" stroke-width="1.6"/>
<line x1="218.8" y1="449.9" x2="218.8" y2="454.9" stroke="#000" stroke-width="1.6"/>
<line x1="250.4" y1="463.9" x2="250.4" y2="469.5" stroke="#000" stroke-width="1.6"/>
<line x1="271.9" y1="474.2" x2="271.9" y2="479.8" stroke="#000" stroke-width="1.6"/>
<line x1="301.6" y1="488.2" x2="301.6" y2="493.8" stroke="#000" stroke-width="1.6"/>
<line x1="150.7" y1="556.1" x2="159.3" y2="556.1" stroke="#d0d0d0" stroke-width="0.9"/><line x1="150.7" y1="561.7" x2="159.3" y2="561.7" stroke="#d0d0d0" stroke-width="0.9"/>
<line x1="66.9" y1="536.1" x2="75.5" y2="536.1" stroke="#d0d0d0" stroke-width="0.9"/><line x1="66.9" y1="542.9" x2="75.5" y2="542.9" stroke="#d0d0d0" stroke-width="0.9"/>
<line x1="233.6" y1="548" x2="242.2" y2="548" stroke="#d0d0d0" stroke-width="0.9"/><line x1="233.6" y1="555.2" x2="242.2" y2="555.2" stroke="#d0d0d0" stroke-width="0.9"/>
<line x1="255.4" y1="541.7" x2="264" y2="541.7" stroke="#d0d0d0" stroke-width="0.9"/><line x1="255.4" y1="547.7" x2="264" y2="547.7" stroke="#d0d0d0" stroke-width="0.9"/>
<line x1="292.5" y1="545.1" x2="301.1" y2="545.1" stroke="#d0d0d0" stroke-width="0.9"/><line x1="292.5" y1="551.1" x2="301.1" y2="551.1" stroke="#d0d0d0" stroke-width="0.9"/>
<line x1="185.3" y1="538.9" x2="193.9" y2="538.9" stroke="#d0d0d0" stroke-width="0.9"/><line x1="185.3" y1="545.5" x2="193.9" y2="545.5" stroke="#d0d0d0" stroke-width="0.9"/>
<line x1="214.7" y1="543.8" x2="223.3" y2="543.8" stroke="#d0d0d0" stroke-width="0.9"/><line x1="214.7" y1="550.4" x2="223.3" y2="550.4" stroke="#d0d0d0" stroke-width="0.9"/>
<line x1="246" y1="544.2" x2="254.6" y2="544.2" stroke="#d0d0d0" stroke-width="0.9"/><line x1="246" y1="550.8" x2="254.6" y2="550.8" stroke="#d0d0d0" stroke-width="0.9"/>
<line x1="267.8" y1="546.8" x2="276.4" y2="546.8" stroke="#d0d0d0" stroke-width="0.9"/><line x1="267.8" y1="553.4" x2="276.4" y2="553.4" stroke="#d0d0d0" stroke-width="0.9"/>
<line x1="297.4" y1="549.6" x2="306" y2="549.6" stroke="#d0d0d0" stroke-width="0.9"/><line x1="297.4" y1="556.2" x2="306" y2="556.2" stroke="#d0d0d0" stroke-width="0.9"/>
<ellipse cx="70.1" cy="547" rx="3.75" ry="3.55" fill="#ff0000"/>
<ellipse cx="76.2" cy="551.3" rx="3.75" ry="3.55" fill="#ff0000"/>
<ellipse cx="133.8" cy="549.1" rx="3.75" ry="3.55" fill="#ff0000"/>
<ellipse cx="136.5" cy="546.6" rx="3.75" ry="3.55" fill="#ff0000"/>
<ellipse cx="146.2" cy="549.1" rx="3.75" ry="3.55" fill="#ff0000"/>
<ellipse cx="155" cy="558.9" rx="3.75" ry="3.55" fill="#ff0000"/>
<path d="M71.2 536L75.05 543L67.35 543Z" fill="#1e90ff"/>
<path d="M237.9 555.05L241.75 548.15L234.05 548.15Z" fill="#008000"/>
<path d="M259.7 548.15L263.55 541.25L255.85 541.25Z" fill="#008000"/>
<path d="M296.8 551.55L300.65 544.65L292.95 544.65Z" fill="#008000"/>
<rect x="185.7" y="538.6" width="7.8" height="7.2" fill="#bf00bf"/>
<rect x="215.1" y="543.5" width="7.8" height="7.2" fill="#bf00bf"/>
<rect x="246.4" y="543.9" width="7.8" height="7.2" fill="#bf00bf"/>
<rect x="268.2" y="546.5" width="7.8" height="7.2" fill="#bf00bf"/>
<rect x="297.8" y="549.3" width="7.8" height="7.2" fill="#bf00bf"/>
<line x1="70.1" y1="545.8" x2="70.1" y2="548.2" stroke="#000" stroke-width="1.6"/>
<line x1="76.2" y1="550.1" x2="76.2" y2="552.5" stroke="#000" stroke-width="1.6"/>
<line x1="133.8" y1="547.9" x2="133.8" y2="550.3" stroke="#000" stroke-width="1.6"/>
<line x1="136.5" y1="545.4" x2="136.5" y2="547.8" stroke="#000" stroke-width="1.6"/>
<line x1="146.2" y1="547.3" x2="146.2" y2="550.9" stroke="#000" stroke-width="1.6"/>
<line x1="155" y1="556.1" x2="155" y2="561.7" stroke="#000" stroke-width="1.6"/>
<line x1="71.2" y1="536.1" x2="71.2" y2="542.9" stroke="#000" stroke-width="1.6"/>
<line x1="237.9" y1="548" x2="237.9" y2="555.2" stroke="#000" stroke-width="1.6"/>
<line x1="259.7" y1="541.7" x2="259.7" y2="547.7" stroke="#000" stroke-width="1.6"/>
<line x1="296.8" y1="545.1" x2="296.8" y2="551.1" stroke="#000" stroke-width="1.6"/>
<line x1="189.6" y1="538.9" x2="189.6" y2="545.5" stroke="#000" stroke-width="1.6"/>
<line x1="219" y1="543.8" x2="219" y2="550.4" stroke="#000" stroke-width="1.6"/>
<line x1="250.3" y1="544.2" x2="250.3" y2="550.8" stroke="#000" stroke-width="1.6"/>
<line x1="272.1" y1="546.8" x2="272.1" y2="553.4" stroke="#000" stroke-width="1.6"/>
<line x1="301.7" y1="549.6" x2="301.7" y2="556.2" stroke="#000" stroke-width="1.6"/>
<line x1="46" y1="549" x2="329.5" y2="549" stroke="#000" stroke-width="1.85" stroke-linecap="round" stroke-dasharray="0.01 5.367" stroke-dashoffset="-1.5"/>
<g stroke="#000"><line x1="41.2" y1="335" x2="50.8" y2="335" stroke-width="1.7"/><line x1="324.7" y1="335" x2="334.3" y2="335" stroke-width="1.7"/><line x1="41.2" y1="374.05" x2="50.8" y2="374.05" stroke-width="1.7"/><line x1="324.7" y1="374.05" x2="334.3" y2="374.05" stroke-width="1.7"/><line x1="41.2" y1="413.1" x2="50.8" y2="413.1" stroke-width="1.7"/><line x1="324.7" y1="413.1" x2="334.3" y2="413.1" stroke-width="1.7"/><line x1="41.2" y1="452.15" x2="50.8" y2="452.15" stroke-width="1.7"/><line x1="324.7" y1="452.15" x2="334.3" y2="452.15" stroke-width="1.7"/><line x1="41.2" y1="491.2" x2="50.8" y2="491.2" stroke-width="1.7"/><line x1="324.7" y1="491.2" x2="334.3" y2="491.2" stroke-width="1.7"/><line x1="43" y1="362.29" x2="49" y2="362.29" stroke-width="1.5"/><line x1="326.5" y1="362.29" x2="332.5" y2="362.29" stroke-width="1.5"/><line x1="43" y1="355.42" x2="49" y2="355.42" stroke-width="1.5"/><line x1="326.5" y1="355.42" x2="332.5" y2="355.42" stroke-width="1.5"/><line x1="43" y1="350.54" x2="49" y2="350.54" stroke-width="1.5"/><line x1="326.5" y1="350.54" x2="332.5" y2="350.54" stroke-width="1.5"/><line x1="43" y1="346.76" x2="49" y2="346.76" stroke-width="1.5"/><line x1="326.5" y1="346.76" x2="332.5" y2="346.76" stroke-width="1.5"/><line x1="43" y1="343.66" x2="49" y2="343.66" stroke-width="1.5"/><line x1="326.5" y1="343.66" x2="332.5" y2="343.66" stroke-width="1.5"/><line x1="43" y1="341.05" x2="49" y2="341.05" stroke-width="1.5"/><line x1="326.5" y1="341.05" x2="332.5" y2="341.05" stroke-width="1.5"/><line x1="43" y1="338.78" x2="49" y2="338.78" stroke-width="1.5"/><line x1="326.5" y1="338.78" x2="332.5" y2="338.78" stroke-width="1.5"/><line x1="43" y1="336.79" x2="49" y2="336.79" stroke-width="1.5"/><line x1="326.5" y1="336.79" x2="332.5" y2="336.79" stroke-width="1.5"/><line x1="43" y1="401.34" x2="49" y2="401.34" stroke-width="1.5"/><line x1="326.5" y1="401.34" x2="332.5" y2="401.34" stroke-width="1.5"/><line x1="43" y1="394.47" x2="49" y2="394.47" stroke-width="1.5"/><line x1="326.5" y1="394.47" x2="332.5" y2="394.47" stroke-width="1.5"/><line x1="43" y1="389.59" x2="49" y2="389.59" stroke-width="1.5"/><line x1="326.5" y1="389.59" x2="332.5" y2="389.59" stroke-width="1.5"/><line x1="43" y1="385.81" x2="49" y2="385.81" stroke-width="1.5"/><line x1="326.5" y1="385.81" x2="332.5" y2="385.81" stroke-width="1.5"/><line x1="43" y1="382.71" x2="49" y2="382.71" stroke-width="1.5"/><line x1="326.5" y1="382.71" x2="332.5" y2="382.71" stroke-width="1.5"/><line x1="43" y1="380.1" x2="49" y2="380.1" stroke-width="1.5"/><line x1="326.5" y1="380.1" x2="332.5" y2="380.1" stroke-width="1.5"/><line x1="43" y1="377.83" x2="49" y2="377.83" stroke-width="1.5"/><line x1="326.5" y1="377.83" x2="332.5" y2="377.83" stroke-width="1.5"/><line x1="43" y1="375.84" x2="49" y2="375.84" stroke-width="1.5"/><line x1="326.5" y1="375.84" x2="332.5" y2="375.84" stroke-width="1.5"/><line x1="43" y1="440.39" x2="49" y2="440.39" stroke-width="1.5"/><line x1="326.5" y1="440.39" x2="332.5" y2="440.39" stroke-width="1.5"/><line x1="43" y1="433.52" x2="49" y2="433.52" stroke-width="1.5"/><line x1="326.5" y1="433.52" x2="332.5" y2="433.52" stroke-width="1.5"/><line x1="43" y1="428.64" x2="49" y2="428.64" stroke-width="1.5"/><line x1="326.5" y1="428.64" x2="332.5" y2="428.64" stroke-width="1.5"/><line x1="43" y1="424.86" x2="49" y2="424.86" stroke-width="1.5"/><line x1="326.5" y1="424.86" x2="332.5" y2="424.86" stroke-width="1.5"/><line x1="43" y1="421.76" x2="49" y2="421.76" stroke-width="1.5"/><line x1="326.5" y1="421.76" x2="332.5" y2="421.76" stroke-width="1.5"/><line x1="43" y1="419.15" x2="49" y2="419.15" stroke-width="1.5"/><line x1="326.5" y1="419.15" x2="332.5" y2="419.15" stroke-width="1.5"/><line x1="43" y1="416.88" x2="49" y2="416.88" stroke-width="1.5"/><line x1="326.5" y1="416.88" x2="332.5" y2="416.88" stroke-width="1.5"/><line x1="43" y1="414.89" x2="49" y2="414.89" stroke-width="1.5"/><line x1="326.5" y1="414.89" x2="332.5" y2="414.89" stroke-width="1.5"/><line x1="43" y1="479.44" x2="49" y2="479.44" stroke-width="1.5"/><line x1="326.5" y1="479.44" x2="332.5" y2="479.44" stroke-width="1.5"/><line x1="43" y1="472.57" x2="49" y2="472.57" stroke-width="1.5"/><line x1="326.5" y1="472.57" x2="332.5" y2="472.57" stroke-width="1.5"/><line x1="43" y1="467.69" x2="49" y2="467.69" stroke-width="1.5"/><line x1="326.5" y1="467.69" x2="332.5" y2="467.69" stroke-width="1.5"/><line x1="43" y1="463.91" x2="49" y2="463.91" stroke-width="1.5"/><line x1="326.5" y1="463.91" x2="332.5" y2="463.91" stroke-width="1.5"/><line x1="43" y1="460.81" x2="49" y2="460.81" stroke-width="1.5"/><line x1="326.5" y1="460.81" x2="332.5" y2="460.81" stroke-width="1.5"/><line x1="43" y1="458.2" x2="49" y2="458.2" stroke-width="1.5"/><line x1="326.5" y1="458.2" x2="332.5" y2="458.2" stroke-width="1.5"/><line x1="43" y1="455.93" x2="49" y2="455.93" stroke-width="1.5"/><line x1="326.5" y1="455.93" x2="332.5" y2="455.93" stroke-width="1.5"/><line x1="43" y1="453.94" x2="49" y2="453.94" stroke-width="1.5"/><line x1="326.5" y1="453.94" x2="332.5" y2="453.94" stroke-width="1.5"/><line x1="43" y1="511.62" x2="49" y2="511.62" stroke-width="1.5"/><line x1="326.5" y1="511.62" x2="332.5" y2="511.62" stroke-width="1.5"/><line x1="43" y1="506.74" x2="49" y2="506.74" stroke-width="1.5"/><line x1="326.5" y1="506.74" x2="332.5" y2="506.74" stroke-width="1.5"/><line x1="43" y1="502.96" x2="49" y2="502.96" stroke-width="1.5"/><line x1="326.5" y1="502.96" x2="332.5" y2="502.96" stroke-width="1.5"/><line x1="43" y1="499.86" x2="49" y2="499.86" stroke-width="1.5"/><line x1="326.5" y1="499.86" x2="332.5" y2="499.86" stroke-width="1.5"/><line x1="43" y1="497.25" x2="49" y2="497.25" stroke-width="1.5"/><line x1="326.5" y1="497.25" x2="332.5" y2="497.25" stroke-width="1.5"/><line x1="43" y1="494.98" x2="49" y2="494.98" stroke-width="1.5"/><line x1="326.5" y1="494.98" x2="332.5" y2="494.98" stroke-width="1.5"/><line x1="43" y1="492.99" x2="49" y2="492.99" stroke-width="1.5"/><line x1="326.5" y1="492.99" x2="332.5" y2="492.99" stroke-width="1.5"/><line x1="41.2" y1="518.35" x2="50.8" y2="518.35" stroke-width="1.7"/><line x1="324.7" y1="518.35" x2="334.3" y2="518.35" stroke-width="1.7"/><line x1="41.2" y1="549" x2="50.8" y2="549" stroke-width="1.7"/><line x1="324.7" y1="549" x2="334.3" y2="549" stroke-width="1.7"/><line x1="41.2" y1="579.65" x2="50.8" y2="579.65" stroke-width="1.7"/><line x1="324.7" y1="579.65" x2="334.3" y2="579.65" stroke-width="1.7"/><line x1="107.5" y1="332.5" x2="107.5" y2="337.5" stroke-width="1.5"/><line x1="107.5" y1="515.8" x2="107.5" y2="520.8" stroke-width="1.5"/><line x1="107.5" y1="577.1" x2="107.5" y2="582.1" stroke-width="1.5"/><line x1="165.01" y1="332.5" x2="165.01" y2="337.5" stroke-width="1.5"/><line x1="165.01" y1="515.8" x2="165.01" y2="520.8" stroke-width="1.5"/><line x1="165.01" y1="577.1" x2="165.01" y2="582.1" stroke-width="1.5"/><line x1="205.82" y1="332.5" x2="205.82" y2="337.5" stroke-width="1.5"/><line x1="205.82" y1="515.8" x2="205.82" y2="520.8" stroke-width="1.5"/><line x1="205.82" y1="577.1" x2="205.82" y2="582.1" stroke-width="1.5"/><line x1="237.47" y1="332.5" x2="237.47" y2="337.5" stroke-width="1.5"/><line x1="237.47" y1="515.8" x2="237.47" y2="520.8" stroke-width="1.5"/><line x1="237.47" y1="577.1" x2="237.47" y2="582.1" stroke-width="1.5"/><line x1="263.33" y1="332.5" x2="263.33" y2="337.5" stroke-width="1.5"/><line x1="263.33" y1="515.8" x2="263.33" y2="520.8" stroke-width="1.5"/><line x1="263.33" y1="577.1" x2="263.33" y2="582.1" stroke-width="1.5"/><line x1="285.19" y1="332.5" x2="285.19" y2="337.5" stroke-width="1.5"/><line x1="285.19" y1="515.8" x2="285.19" y2="520.8" stroke-width="1.5"/><line x1="285.19" y1="577.1" x2="285.19" y2="582.1" stroke-width="1.5"/><line x1="304.13" y1="332.5" x2="304.13" y2="337.5" stroke-width="1.5"/><line x1="304.13" y1="515.8" x2="304.13" y2="520.8" stroke-width="1.5"/><line x1="304.13" y1="577.1" x2="304.13" y2="582.1" stroke-width="1.5"/><line x1="320.84" y1="332.5" x2="320.84" y2="337.5" stroke-width="1.5"/><line x1="320.84" y1="515.8" x2="320.84" y2="520.8" stroke-width="1.5"/><line x1="320.84" y1="577.1" x2="320.84" y2="582.1" stroke-width="1.5"/></g>
<path d="M46 335H329.5V579.6H46Z M46 518.3H329.5" fill="none" stroke="#000" stroke-width="1.8"/>
<text transform="translate(29.5,339.5) scale(1.0,1)" font-size="10" text-anchor="end" fill="#000" stroke="#000" stroke-width="0.18">10</text>
<text transform="translate(40.2,334.1) scale(1.08,1)" font-size="6.8" text-anchor="end" fill="#000" stroke="#000" stroke-width="0.1">&#8722;12</text>
<text transform="translate(29.5,378.55) scale(1.0,1)" font-size="10" text-anchor="end" fill="#000" stroke="#000" stroke-width="0.18">10</text>
<text transform="translate(40.2,373.15) scale(1.08,1)" font-size="6.8" text-anchor="end" fill="#000" stroke="#000" stroke-width="0.1">&#8722;13</text>
<text transform="translate(29.5,417.6) scale(1.0,1)" font-size="10" text-anchor="end" fill="#000" stroke="#000" stroke-width="0.18">10</text>
<text transform="translate(40.2,412.2) scale(1.08,1)" font-size="6.8" text-anchor="end" fill="#000" stroke="#000" stroke-width="0.1">&#8722;14</text>
<text transform="translate(29.5,456.65) scale(1.0,1)" font-size="10" text-anchor="end" fill="#000" stroke="#000" stroke-width="0.18">10</text>
<text transform="translate(40.2,451.25) scale(1.08,1)" font-size="6.8" text-anchor="end" fill="#000" stroke="#000" stroke-width="0.1">&#8722;15</text>
<text transform="translate(29.5,495.7) scale(1.0,1)" font-size="10" text-anchor="end" fill="#000" stroke="#000" stroke-width="0.18">10</text>
<text transform="translate(40.2,490.3) scale(1.08,1)" font-size="6.8" text-anchor="end" fill="#000" stroke="#000" stroke-width="0.1">&#8722;16</text>
<text transform="translate(39.8,521.65) scale(1.08,1)" font-size="9" text-anchor="end" fill="#000" stroke="#000" stroke-width="0.18">0.5</text>
<text transform="translate(39.8,552.3) scale(1.08,1)" font-size="9" text-anchor="end" fill="#000" stroke="#000" stroke-width="0.18">0.0</text>
<text transform="translate(39.8,582.95) scale(1.08,1)" font-size="9" text-anchor="end" fill="#000" stroke="#000" stroke-width="0.18">&#8722;0.5</text>
<text transform="translate(105.9,591.4) scale(1.08,1)" font-size="9" text-anchor="middle" fill="#000" stroke="#000" stroke-width="0.15">2&#8201;&#215;&#8201;10</text>
<text transform="translate(117.7,586.6) scale(1.08,1)" font-size="6.3" text-anchor="start" fill="#000" stroke="#000" stroke-width="0.08">3</text>
<text transform="translate(163.41,591.4) scale(1.08,1)" font-size="9" text-anchor="middle" fill="#000" stroke="#000" stroke-width="0.15">3&#8201;&#215;&#8201;10</text>
<text transform="translate(175.21,586.6) scale(1.08,1)" font-size="6.3" text-anchor="start" fill="#000" stroke="#000" stroke-width="0.08">3</text>
<text transform="translate(204.22,591.4) scale(1.08,1)" font-size="9" text-anchor="middle" fill="#000" stroke="#000" stroke-width="0.15">4&#8201;&#215;&#8201;10</text>
<text transform="translate(216.02,586.6) scale(1.08,1)" font-size="6.3" text-anchor="start" fill="#000" stroke="#000" stroke-width="0.08">3</text>
<text transform="translate(261.73,591.4) scale(1.08,1)" font-size="9" text-anchor="middle" fill="#000" stroke="#000" stroke-width="0.15">6&#8201;&#215;&#8201;10</text>
<text transform="translate(273.53,586.6) scale(1.08,1)" font-size="6.3" text-anchor="start" fill="#000" stroke="#000" stroke-width="0.08">3</text>
<text transform="translate(187.7,603.1) scale(1.08,1)" font-size="10.5" text-anchor="middle" fill="#000" stroke="#000" stroke-width="0.22">&#955;(&#197;)</text>
<text transform="translate(13.9,426.1) rotate(-90) scale(1,1.12)" font-size="10.75" text-anchor="middle" stroke="#000" stroke-width="0.22">F<tspan font-size="7.3" dy="2.5">&#955;</tspan><tspan dy="-2.5">(ergs/s/cm</tspan><tspan font-size="7.5" dy="-5.4">2</tspan><tspan dy="5.4" dx="1.1">/&#197;)</tspan></text>
<text transform="translate(17.2,549.6) rotate(-90) scale(1,1.12)" font-size="10.6" text-anchor="middle" stroke="#000" stroke-width="0.22">Residuals</text>
<text transform="translate(164.9,359.2) scale(1.09,1)" font-size="11.6" text-anchor="middle" fill="#000" stroke="#000" stroke-width="0.14">Star 29</text>
<text transform="translate(168.7,370.5) scale(1.095,1)" font-size="11.6" text-anchor="middle" fill="#000" stroke="#000" stroke-width="0.14">Temperature = 32000 K</text>
<rect x="259.8" y="339.1" width="64.6" height="84.1" rx="2" fill="#fff" fill-opacity="0.8" stroke="#e6e6e6" stroke-width="0.8"/>
<line x1="262.4" y1="345.7" x2="282.8" y2="345.7" stroke="#7f7f7f" stroke-width="1.9"/>
<text transform="translate(289.4,348.6) scale(1.11,1)" font-size="8.2" text-anchor="start" fill="#000" stroke="#000" stroke-width="0.12">Model</text>
<ellipse cx="272.6" cy="357.7" rx="3.75" ry="3.55" fill="#ff0000"/>
<text transform="translate(289.4,360.6) scale(1.11,1)" font-size="8.2" text-anchor="start" fill="#000" stroke="#000" stroke-width="0.12">UVIT</text>
<path d="M272.6 365.9L276.45 372.9L268.75 372.9Z" fill="#1e90ff"/>
<text transform="translate(289.4,372.3) scale(1.11,1)" font-size="8.2" text-anchor="start" fill="#000" stroke="#000" stroke-width="0.12">GALEX</text>
<path d="M272.6 384.55L276.45 377.65L268.75 377.65Z" fill="#008000"/>
<text transform="translate(289.4,384) scale(1.11,1)" font-size="8.2" text-anchor="start" fill="#000" stroke="#000" stroke-width="0.12">GAIA</text>
<rect x="268.7" y="389.2" width="7.8" height="7.2" fill="#bf00bf"/>
<text transform="translate(289.4,395.7) scale(1.11,1)" font-size="8.2" text-anchor="start" fill="#000" stroke="#000" stroke-width="0.12">Optical</text>
<path d="M272.6 401L276.45 408L268.75 408Z" fill="#ffa500"/>
<text transform="translate(289.4,407.4) scale(1.11,1)" font-size="8.2" text-anchor="start" fill="#000" stroke="#000" stroke-width="0.12">No fit</text>
<line x1="272.6" y1="412.2" x2="272.6" y2="420.2" stroke="#000" stroke-width="1.4"/><line x1="268.3" y1="412.2" x2="276.9" y2="412.2" stroke="#d0d0d0" stroke-width="0.9"/><line x1="268.3" y1="420.2" x2="276.9" y2="420.2" stroke="#d0d0d0" stroke-width="0.9"/>
<text transform="translate(289.4,419.1) scale(1.11,1)" font-size="8.2" text-anchor="start" fill="#000" stroke="#000" stroke-width="0.12">3&#963;</text>
<clipPath id="c365328"><rect x="411" y="335" width="283.5" height="183.3"/></clipPath>
<g clip-path="url(#c365328)">
<path d="M411 394.3 L415.6 395.7 L419.5 397 L420.5 397.5 L421.2 399.2 L422.2 398.2 L423.5 398.2 L426 398.8 L431.6 401.3 L446.4 406.1 L457.9 409.6 L463.6 413 L470.4 414.5 L479.6 417.6 L491 421.6 L507.9 427.3 L530.7 435.3 L540 439.3 L550.7 444.3 L556 446.4 L558.8 447.8 L561.6 449 L564 447.2 L566.8 446 L569.6 446.4 L573.2 447.4 L576 449.2 L579.2 450 L590 454.6 L597.7 458.4 L598.9 462.4 L600 459 L611.4 464.1 L627.1 470.7 L640 476.7 L661.4 486.3 L671.1 490.2 L680 494.1 L686 496.9 L690 497.9 L694.5 498.8" fill="none" stroke="#7f7f7f" stroke-width="1.9" stroke-linejoin="round"/>
<path d="M564 447.9 L566.8 446.7 L569.6 447.1 L573.2 448.1 L576 449.9" fill="none" stroke="#7f7f7f" stroke-width="2.4" stroke-linejoin="round" stroke-linecap="round"/>
<path d="M679.5 494.6 L686 497.6 L690 498.6 L694.5 499.5" fill="none" stroke="#7f7f7f" stroke-width="2.4" stroke-linejoin="round" stroke-linecap="round"/>
<line x1="564.6" y1="447" x2="564.6" y2="449.8" stroke="#7f7f7f" stroke-width="1.5" stroke-linecap="round"/>
<line x1="567" y1="446" x2="567" y2="450.8" stroke="#7f7f7f" stroke-width="1.5" stroke-linecap="round"/>
<line x1="570" y1="446.5" x2="570" y2="452" stroke="#7f7f7f" stroke-width="1.5" stroke-linecap="round"/>
<line x1="574.8" y1="448.4" x2="574.8" y2="452.8" stroke="#7f7f7f" stroke-width="1.5" stroke-linecap="round"/>
<line x1="686.4" y1="497" x2="686.4" y2="498.7" stroke="#7f7f7f" stroke-width="1.5" stroke-linecap="round"/>
<line x1="689.7" y1="497.9" x2="689.7" y2="500.8" stroke="#7f7f7f" stroke-width="1.5" stroke-linecap="round"/>
</g>
<line x1="507.3" y1="426.8" x2="515.9" y2="426.8" stroke="#d0d0d0" stroke-width="0.9"/><line x1="507.3" y1="432.8" x2="515.9" y2="432.8" stroke="#d0d0d0" stroke-width="0.9"/>
<line x1="515.5" y1="429.7" x2="524.1" y2="429.7" stroke="#d0d0d0" stroke-width="0.9"/><line x1="515.5" y1="435.7" x2="524.1" y2="435.7" stroke="#d0d0d0" stroke-width="0.9"/>
<line x1="431.9" y1="397.5" x2="440.5" y2="397.5" stroke="#d0d0d0" stroke-width="0.9"/><line x1="431.9" y1="404.5" x2="440.5" y2="404.5" stroke="#d0d0d0" stroke-width="0.9"/>
<line x1="620.5" y1="465.3" x2="629.1" y2="465.3" stroke="#d0d0d0" stroke-width="0.9"/><line x1="620.5" y1="473.3" x2="629.1" y2="473.3" stroke="#d0d0d0" stroke-width="0.9"/>
<line x1="550.5" y1="437.1" x2="559.1" y2="437.1" stroke="#d0d0d0" stroke-width="0.9"/><line x1="550.5" y1="445.1" x2="559.1" y2="445.1" stroke="#d0d0d0" stroke-width="0.9"/>
<line x1="579.5" y1="448.4" x2="588.1" y2="448.4" stroke="#d0d0d0" stroke-width="0.9"/><line x1="579.5" y1="456.4" x2="588.1" y2="456.4" stroke="#d0d0d0" stroke-width="0.9"/>
<line x1="611.2" y1="462" x2="619.8" y2="462" stroke="#d0d0d0" stroke-width="0.9"/><line x1="611.2" y1="470" x2="619.8" y2="470" stroke="#d0d0d0" stroke-width="0.9"/>
<line x1="633.1" y1="473.8" x2="641.7" y2="473.8" stroke="#d0d0d0" stroke-width="0.9"/><line x1="633.1" y1="481.8" x2="641.7" y2="481.8" stroke="#d0d0d0" stroke-width="0.9"/>
<line x1="662.4" y1="486" x2="671" y2="486" stroke="#d0d0d0" stroke-width="0.9"/><line x1="662.4" y1="494" x2="671" y2="494" stroke="#d0d0d0" stroke-width="0.9"/>
<line x1="488.3" y1="414.3" x2="496.9" y2="414.3" stroke="#d0d0d0" stroke-width="0.9"/><line x1="488.3" y1="414.9" x2="496.9" y2="414.9" stroke="#d0d0d0" stroke-width="0.9"/>
<line x1="599" y1="454.3" x2="607.6" y2="454.3" stroke="#d0d0d0" stroke-width="0.9"/><line x1="599" y1="454.9" x2="607.6" y2="454.9" stroke="#d0d0d0" stroke-width="0.9"/>
<line x1="658" y1="475.2" x2="666.6" y2="475.2" stroke="#d0d0d0" stroke-width="0.9"/><line x1="658" y1="475.8" x2="666.6" y2="475.8" stroke="#d0d0d0" stroke-width="0.9"/>
<ellipse cx="435" cy="402.9" rx="3.75" ry="3.55" fill="#ff0000"/>
<ellipse cx="441.5" cy="404.7" rx="3.75" ry="3.55" fill="#ff0000"/>
<ellipse cx="499.3" cy="425.6" rx="3.75" ry="3.55" fill="#ff0000"/>
<ellipse cx="501.3" cy="424.2" rx="3.75" ry="3.55" fill="#ff0000"/>
<ellipse cx="511.6" cy="429.8" rx="3.75" ry="3.55" fill="#ff0000"/>
<ellipse cx="519.8" cy="432.7" rx="3.75" ry="3.55" fill="#ff0000"/>
<path d="M436.2 397.5L440.05 404.5L432.35 404.5Z" fill="#1e90ff"/>
<path d="M624.8 472.75L628.65 465.85L620.95 465.85Z" fill="#008000"/>
<rect x="550.9" y="437.5" width="7.8" height="7.2" fill="#bf00bf"/>
<rect x="579.9" y="448.8" width="7.8" height="7.2" fill="#bf00bf"/>
<rect x="611.6" y="462.4" width="7.8" height="7.2" fill="#bf00bf"/>
<rect x="633.5" y="474.2" width="7.8" height="7.2" fill="#bf00bf"/>
<rect x="662.8" y="486.4" width="7.8" height="7.2" fill="#bf00bf"/>
<path d="M492.6 411.1L496.45 418.1L488.75 418.1Z" fill="#ffa500"/>
<path d="M603.3 458.05L607.15 451.15L599.45 451.15Z" fill="#ffa500"/>
<path d="M662.3 478.95L666.15 472.05L658.45 472.05Z" fill="#ffa500"/>
<line x1="441.5" y1="403.2" x2="441.5" y2="406.2" stroke="#000" stroke-width="1.6"/>
<line x1="499.3" y1="424.1" x2="499.3" y2="427.1" stroke="#000" stroke-width="1.6"/>
<line x1="501.3" y1="422.7" x2="501.3" y2="425.7" stroke="#000" stroke-width="1.6"/>
<line x1="511.6" y1="426.8" x2="511.6" y2="432.8" stroke="#000" stroke-width="1.6"/>
<line x1="519.8" y1="429.7" x2="519.8" y2="435.7" stroke="#000" stroke-width="1.6"/>
<line x1="436.2" y1="397.5" x2="436.2" y2="404.5" stroke="#000" stroke-width="1.6"/>
<line x1="624.8" y1="465.3" x2="624.8" y2="473.3" stroke="#000" stroke-width="1.6"/>
<line x1="554.8" y1="437.1" x2="554.8" y2="445.1" stroke="#000" stroke-width="1.6"/>
<line x1="583.8" y1="448.4" x2="583.8" y2="456.4" stroke="#000" stroke-width="1.6"/>
<line x1="615.5" y1="462" x2="615.5" y2="470" stroke="#000" stroke-width="1.6"/>
<line x1="637.4" y1="473.8" x2="637.4" y2="481.8" stroke="#000" stroke-width="1.6"/>
<line x1="666.7" y1="486" x2="666.7" y2="494" stroke="#000" stroke-width="1.6"/>
<line x1="506.9" y1="546.3" x2="515.5" y2="546.3" stroke="#d0d0d0" stroke-width="0.9"/><line x1="506.9" y1="552.3" x2="515.5" y2="552.3" stroke="#d0d0d0" stroke-width="0.9"/>
<line x1="431.8" y1="537.3" x2="440.4" y2="537.3" stroke="#d0d0d0" stroke-width="0.9"/><line x1="431.8" y1="545.7" x2="440.4" y2="545.7" stroke="#d0d0d0" stroke-width="0.9"/>
<line x1="550.5" y1="533.8" x2="559.1" y2="533.8" stroke="#d0d0d0" stroke-width="0.9"/><line x1="550.5" y1="543" x2="559.1" y2="543" stroke="#d0d0d0" stroke-width="0.9"/>
<line x1="579.7" y1="540.6" x2="588.3" y2="540.6" stroke="#d0d0d0" stroke-width="0.9"/><line x1="579.7" y1="550" x2="588.3" y2="550" stroke="#d0d0d0" stroke-width="0.9"/>
<line x1="611.4" y1="543.8" x2="620" y2="543.8" stroke="#d0d0d0" stroke-width="0.9"/><line x1="611.4" y1="553.4" x2="620" y2="553.4" stroke="#d0d0d0" stroke-width="0.9"/>
<line x1="632.7" y1="555.1" x2="641.3" y2="555.1" stroke="#d0d0d0" stroke-width="0.9"/><line x1="632.7" y1="564.3" x2="641.3" y2="564.3" stroke="#d0d0d0" stroke-width="0.9"/>
<line x1="662.4" y1="550.4" x2="671" y2="550.4" stroke="#d0d0d0" stroke-width="0.9"/><line x1="662.4" y1="559.6" x2="671" y2="559.6" stroke="#d0d0d0" stroke-width="0.9"/>
<ellipse cx="435.1" cy="548.7" rx="3.75" ry="3.55" fill="#ff0000"/>
<ellipse cx="441.4" cy="548.7" rx="3.75" ry="3.55" fill="#ff0000"/>
<ellipse cx="499.5" cy="552.2" rx="3.75" ry="3.55" fill="#ff0000"/>
<ellipse cx="501.1" cy="543.9" rx="3.75" ry="3.55" fill="#ff0000"/>
<ellipse cx="511.2" cy="549.3" rx="3.75" ry="3.55" fill="#ff0000"/>
<ellipse cx="520" cy="549.7" rx="3.75" ry="3.55" fill="#ff0000"/>
<path d="M436.1 538L439.95 545L432.25 545Z" fill="#1e90ff"/>
<path d="M624.7 544.55L628.55 537.65L620.85 537.65Z" fill="#008000"/>
<rect x="550.9" y="534.8" width="7.8" height="7.2" fill="#bf00bf"/>
<rect x="580.1" y="541.7" width="7.8" height="7.2" fill="#bf00bf"/>
<rect x="611.8" y="545" width="7.8" height="7.2" fill="#bf00bf"/>
<rect x="633.1" y="556.1" width="7.8" height="7.2" fill="#bf00bf"/>
<rect x="662.8" y="551.4" width="7.8" height="7.2" fill="#bf00bf"/>
<line x1="435.1" y1="547.5" x2="435.1" y2="549.9" stroke="#000" stroke-width="1.6"/>
<line x1="441.4" y1="547.5" x2="441.4" y2="549.9" stroke="#000" stroke-width="1.6"/>
<line x1="499.5" y1="550.7" x2="499.5" y2="553.7" stroke="#000" stroke-width="1.6"/>
<line x1="501.1" y1="542.4" x2="501.1" y2="545.4" stroke="#000" stroke-width="1.6"/>
<line x1="511.2" y1="546.3" x2="511.2" y2="552.3" stroke="#000" stroke-width="1.6"/>
<line x1="520" y1="547.2" x2="520" y2="552.2" stroke="#000" stroke-width="1.6"/>
<line x1="436.1" y1="537.3" x2="436.1" y2="545.7" stroke="#000" stroke-width="1.6"/>
<line x1="624.7" y1="538.6" x2="624.7" y2="543.6" stroke="#000" stroke-width="1.6"/>
<line x1="554.8" y1="533.8" x2="554.8" y2="543" stroke="#000" stroke-width="1.6"/>
<line x1="584" y1="540.6" x2="584" y2="550" stroke="#000" stroke-width="1.6"/>
<line x1="615.7" y1="543.8" x2="615.7" y2="553.4" stroke="#000" stroke-width="1.6"/>
<line x1="637" y1="555.1" x2="637" y2="564.3" stroke="#000" stroke-width="1.6"/>
<line x1="666.7" y1="550.4" x2="666.7" y2="559.6" stroke="#000" stroke-width="1.6"/>
<line x1="411" y1="549" x2="694.5" y2="549" stroke="#000" stroke-width="1.85" stroke-linecap="round" stroke-dasharray="0.01 5.367" stroke-dashoffset="-1.5"/>
<g stroke="#000"><line x1="406.2" y1="335" x2="415.8" y2="335" stroke-width="1.7"/><line x1="689.7" y1="335" x2="699.3" y2="335" stroke-width="1.7"/><line x1="406.2" y1="374.05" x2="415.8" y2="374.05" stroke-width="1.7"/><line x1="689.7" y1="374.05" x2="699.3" y2="374.05" stroke-width="1.7"/><line x1="406.2" y1="413.1" x2="415.8" y2="413.1" stroke-width="1.7"/><line x1="689.7" y1="413.1" x2="699.3" y2="413.1" stroke-width="1.7"/><line x1="406.2" y1="452.15" x2="415.8" y2="452.15" stroke-width="1.7"/><line x1="689.7" y1="452.15" x2="699.3" y2="452.15" stroke-width="1.7"/><line x1="406.2" y1="491.2" x2="415.8" y2="491.2" stroke-width="1.7"/><line x1="689.7" y1="491.2" x2="699.3" y2="491.2" stroke-width="1.7"/><line x1="408" y1="362.29" x2="414" y2="362.29" stroke-width="1.5"/><line x1="691.5" y1="362.29" x2="697.5" y2="362.29" stroke-width="1.5"/><line x1="408" y1="355.42" x2="414" y2="355.42" stroke-width="1.5"/><line x1="691.5" y1="355.42" x2="697.5" y2="355.42" stroke-width="1.5"/><line x1="408" y1="350.54" x2="414" y2="350.54" stroke-width="1.5"/><line x1="691.5" y1="350.54" x2="697.5" y2="350.54" stroke-width="1.5"/><line x1="408" y1="346.76" x2="414" y2="346.76" stroke-width="1.5"/><line x1="691.5" y1="346.76" x2="697.5" y2="346.76" stroke-width="1.5"/><line x1="408" y1="343.66" x2="414" y2="343.66" stroke-width="1.5"/><line x1="691.5" y1="343.66" x2="697.5" y2="343.66" stroke-width="1.5"/><line x1="408" y1="341.05" x2="414" y2="341.05" stroke-width="1.5"/><line x1="691.5" y1="341.05" x2="697.5" y2="341.05" stroke-width="1.5"/><line x1="408" y1="338.78" x2="414" y2="338.78" stroke-width="1.5"/><line x1="691.5" y1="338.78" x2="697.5" y2="338.78" stroke-width="1.5"/><line x1="408" y1="336.79" x2="414" y2="336.79" stroke-width="1.5"/><line x1="691.5" y1="336.79" x2="697.5" y2="336.79" stroke-width="1.5"/><line x1="408" y1="401.34" x2="414" y2="401.34" stroke-width="1.5"/><line x1="691.5" y1="401.34" x2="697.5" y2="401.34" stroke-width="1.5"/><line x1="408" y1="394.47" x2="414" y2="394.47" stroke-width="1.5"/><line x1="691.5" y1="394.47" x2="697.5" y2="394.47" stroke-width="1.5"/><line x1="408" y1="389.59" x2="414" y2="389.59" stroke-width="1.5"/><line x1="691.5" y1="389.59" x2="697.5" y2="389.59" stroke-width="1.5"/><line x1="408" y1="385.81" x2="414" y2="385.81" stroke-width="1.5"/><line x1="691.5" y1="385.81" x2="697.5" y2="385.81" stroke-width="1.5"/><line x1="408" y1="382.71" x2="414" y2="382.71" stroke-width="1.5"/><line x1="691.5" y1="382.71" x2="697.5" y2="382.71" stroke-width="1.5"/><line x1="408" y1="380.1" x2="414" y2="380.1" stroke-width="1.5"/><line x1="691.5" y1="380.1" x2="697.5" y2="380.1" stroke-width="1.5"/><line x1="408" y1="377.83" x2="414" y2="377.83" stroke-width="1.5"/><line x1="691.5" y1="377.83" x2="697.5" y2="377.83" stroke-width="1.5"/><line x1="408" y1="375.84" x2="414" y2="375.84" stroke-width="1.5"/><line x1="691.5" y1="375.84" x2="697.5" y2="375.84" stroke-width="1.5"/><line x1="408" y1="440.39" x2="414" y2="440.39" stroke-width="1.5"/><line x1="691.5" y1="440.39" x2="697.5" y2="440.39" stroke-width="1.5"/><line x1="408" y1="433.52" x2="414" y2="433.52" stroke-width="1.5"/><line x1="691.5" y1="433.52" x2="697.5" y2="433.52" stroke-width="1.5"/><line x1="408" y1="428.64" x2="414" y2="428.64" stroke-width="1.5"/><line x1="691.5" y1="428.64" x2="697.5" y2="428.64" stroke-width="1.5"/><line x1="408" y1="424.86" x2="414" y2="424.86" stroke-width="1.5"/><line x1="691.5" y1="424.86" x2="697.5" y2="424.86" stroke-width="1.5"/><line x1="408" y1="421.76" x2="414" y2="421.76" stroke-width="1.5"/><line x1="691.5" y1="421.76" x2="697.5" y2="421.76" stroke-width="1.5"/><line x1="408" y1="419.15" x2="414" y2="419.15" stroke-width="1.5"/><line x1="691.5" y1="419.15" x2="697.5" y2="419.15" stroke-width="1.5"/><line x1="408" y1="416.88" x2="414" y2="416.88" stroke-width="1.5"/><line x1="691.5" y1="416.88" x2="697.5" y2="416.88" stroke-width="1.5"/><line x1="408" y1="414.89" x2="414" y2="414.89" stroke-width="1.5"/><line x1="691.5" y1="414.89" x2="697.5" y2="414.89" stroke-width="1.5"/><line x1="408" y1="479.44" x2="414" y2="479.44" stroke-width="1.5"/><line x1="691.5" y1="479.44" x2="697.5" y2="479.44" stroke-width="1.5"/><line x1="408" y1="472.57" x2="414" y2="472.57" stroke-width="1.5"/><line x1="691.5" y1="472.57" x2="697.5" y2="472.57" stroke-width="1.5"/><line x1="408" y1="467.69" x2="414" y2="467.69" stroke-width="1.5"/><line x1="691.5" y1="467.69" x2="697.5" y2="467.69" stroke-width="1.5"/><line x1="408" y1="463.91" x2="414" y2="463.91" stroke-width="1.5"/><line x1="691.5" y1="463.91" x2="697.5" y2="463.91" stroke-width="1.5"/><line x1="408" y1="460.81" x2="414" y2="460.81" stroke-width="1.5"/><line x1="691.5" y1="460.81" x2="697.5" y2="460.81" stroke-width="1.5"/><line x1="408" y1="458.2" x2="414" y2="458.2" stroke-width="1.5"/><line x1="691.5" y1="458.2" x2="697.5" y2="458.2" stroke-width="1.5"/><line x1="408" y1="455.93" x2="414" y2="455.93" stroke-width="1.5"/><line x1="691.5" y1="455.93" x2="697.5" y2="455.93" stroke-width="1.5"/><line x1="408" y1="453.94" x2="414" y2="453.94" stroke-width="1.5"/><line x1="691.5" y1="453.94" x2="697.5" y2="453.94" stroke-width="1.5"/><line x1="408" y1="511.62" x2="414" y2="511.62" stroke-width="1.5"/><line x1="691.5" y1="511.62" x2="697.5" y2="511.62" stroke-width="1.5"/><line x1="408" y1="506.74" x2="414" y2="506.74" stroke-width="1.5"/><line x1="691.5" y1="506.74" x2="697.5" y2="506.74" stroke-width="1.5"/><line x1="408" y1="502.96" x2="414" y2="502.96" stroke-width="1.5"/><line x1="691.5" y1="502.96" x2="697.5" y2="502.96" stroke-width="1.5"/><line x1="408" y1="499.86" x2="414" y2="499.86" stroke-width="1.5"/><line x1="691.5" y1="499.86" x2="697.5" y2="499.86" stroke-width="1.5"/><line x1="408" y1="497.25" x2="414" y2="497.25" stroke-width="1.5"/><line x1="691.5" y1="497.25" x2="697.5" y2="497.25" stroke-width="1.5"/><line x1="408" y1="494.98" x2="414" y2="494.98" stroke-width="1.5"/><line x1="691.5" y1="494.98" x2="697.5" y2="494.98" stroke-width="1.5"/><line x1="408" y1="492.99" x2="414" y2="492.99" stroke-width="1.5"/><line x1="691.5" y1="492.99" x2="697.5" y2="492.99" stroke-width="1.5"/><line x1="406.2" y1="518.35" x2="415.8" y2="518.35" stroke-width="1.7"/><line x1="689.7" y1="518.35" x2="699.3" y2="518.35" stroke-width="1.7"/><line x1="406.2" y1="549" x2="415.8" y2="549" stroke-width="1.7"/><line x1="689.7" y1="549" x2="699.3" y2="549" stroke-width="1.7"/><line x1="406.2" y1="579.65" x2="415.8" y2="579.65" stroke-width="1.7"/><line x1="689.7" y1="579.65" x2="699.3" y2="579.65" stroke-width="1.7"/><line x1="472.5" y1="332.5" x2="472.5" y2="337.5" stroke-width="1.5"/><line x1="472.5" y1="515.8" x2="472.5" y2="520.8" stroke-width="1.5"/><line x1="472.5" y1="577.1" x2="472.5" y2="582.1" stroke-width="1.5"/><line x1="530.01" y1="332.5" x2="530.01" y2="337.5" stroke-width="1.5"/><line x1="530.01" y1="515.8" x2="530.01" y2="520.8" stroke-width="1.5"/><line x1="530.01" y1="577.1" x2="530.01" y2="582.1" stroke-width="1.5"/><line x1="570.82" y1="332.5" x2="570.82" y2="337.5" stroke-width="1.5"/><line x1="570.82" y1="515.8" x2="570.82" y2="520.8" stroke-width="1.5"/><line x1="570.82" y1="577.1" x2="570.82" y2="582.1" stroke-width="1.5"/><line x1="602.47" y1="332.5" x2="602.47" y2="337.5" stroke-width="1.5"/><line x1="602.47" y1="515.8" x2="602.47" y2="520.8" stroke-width="1.5"/><line x1="602.47" y1="577.1" x2="602.47" y2="582.1" stroke-width="1.5"/><line x1="628.33" y1="332.5" x2="628.33" y2="337.5" stroke-width="1.5"/><line x1="628.33" y1="515.8" x2="628.33" y2="520.8" stroke-width="1.5"/><line x1="628.33" y1="577.1" x2="628.33" y2="582.1" stroke-width="1.5"/><line x1="650.19" y1="332.5" x2="650.19" y2="337.5" stroke-width="1.5"/><line x1="650.19" y1="515.8" x2="650.19" y2="520.8" stroke-width="1.5"/><line x1="650.19" y1="577.1" x2="650.19" y2="582.1" stroke-width="1.5"/><line x1="669.13" y1="332.5" x2="669.13" y2="337.5" stroke-width="1.5"/><line x1="669.13" y1="515.8" x2="669.13" y2="520.8" stroke-width="1.5"/><line x1="669.13" y1="577.1" x2="669.13" y2="582.1" stroke-width="1.5"/><line x1="685.84" y1="332.5" x2="685.84" y2="337.5" stroke-width="1.5"/><line x1="685.84" y1="515.8" x2="685.84" y2="520.8" stroke-width="1.5"/><line x1="685.84" y1="577.1" x2="685.84" y2="582.1" stroke-width="1.5"/></g>
<path d="M411 335H694.5V579.6H411Z M411 518.3H694.5" fill="none" stroke="#000" stroke-width="1.8"/>
<text transform="translate(394.5,339.5) scale(1.0,1)" font-size="10" text-anchor="end" fill="#000" stroke="#000" stroke-width="0.18">10</text>
<text transform="translate(405.2,334.1) scale(1.08,1)" font-size="6.8" text-anchor="end" fill="#000" stroke="#000" stroke-width="0.1">&#8722;12</text>
<text transform="translate(394.5,378.55) scale(1.0,1)" font-size="10" text-anchor="end" fill="#000" stroke="#000" stroke-width="0.18">10</text>
<text transform="translate(405.2,373.15) scale(1.08,1)" font-size="6.8" text-anchor="end" fill="#000" stroke="#000" stroke-width="0.1">&#8722;13</text>
<text transform="translate(394.5,417.6) scale(1.0,1)" font-size="10" text-anchor="end" fill="#000" stroke="#000" stroke-width="0.18">10</text>
<text transform="translate(405.2,412.2) scale(1.08,1)" font-size="6.8" text-anchor="end" fill="#000" stroke="#000" stroke-width="0.1">&#8722;14</text>
<text transform="translate(394.5,456.65) scale(1.0,1)" font-size="10" text-anchor="end" fill="#000" stroke="#000" stroke-width="0.18">10</text>
<text transform="translate(405.2,451.25) scale(1.08,1)" font-size="6.8" text-anchor="end" fill="#000" stroke="#000" stroke-width="0.1">&#8722;15</text>
<text transform="translate(394.5,495.7) scale(1.0,1)" font-size="10" text-anchor="end" fill="#000" stroke="#000" stroke-width="0.18">10</text>
<text transform="translate(405.2,490.3) scale(1.08,1)" font-size="6.8" text-anchor="end" fill="#000" stroke="#000" stroke-width="0.1">&#8722;16</text>
<text transform="translate(404.8,521.65) scale(1.08,1)" font-size="9" text-anchor="end" fill="#000" stroke="#000" stroke-width="0.18">0.5</text>
<text transform="translate(404.8,552.3) scale(1.08,1)" font-size="9" text-anchor="end" fill="#000" stroke="#000" stroke-width="0.18">0.0</text>
<text transform="translate(404.8,582.95) scale(1.08,1)" font-size="9" text-anchor="end" fill="#000" stroke="#000" stroke-width="0.18">&#8722;0.5</text>
<text transform="translate(470.9,591.4) scale(1.08,1)" font-size="9" text-anchor="middle" fill="#000" stroke="#000" stroke-width="0.15">2&#8201;&#215;&#8201;10</text>
<text transform="translate(482.7,586.6) scale(1.08,1)" font-size="6.3" text-anchor="start" fill="#000" stroke="#000" stroke-width="0.08">3</text>
<text transform="translate(528.41,591.4) scale(1.08,1)" font-size="9" text-anchor="middle" fill="#000" stroke="#000" stroke-width="0.15">3&#8201;&#215;&#8201;10</text>
<text transform="translate(540.21,586.6) scale(1.08,1)" font-size="6.3" text-anchor="start" fill="#000" stroke="#000" stroke-width="0.08">3</text>
<text transform="translate(569.22,591.4) scale(1.08,1)" font-size="9" text-anchor="middle" fill="#000" stroke="#000" stroke-width="0.15">4&#8201;&#215;&#8201;10</text>
<text transform="translate(581.02,586.6) scale(1.08,1)" font-size="6.3" text-anchor="start" fill="#000" stroke="#000" stroke-width="0.08">3</text>
<text transform="translate(626.73,591.4) scale(1.08,1)" font-size="9" text-anchor="middle" fill="#000" stroke="#000" stroke-width="0.15">6&#8201;&#215;&#8201;10</text>
<text transform="translate(638.53,586.6) scale(1.08,1)" font-size="6.3" text-anchor="start" fill="#000" stroke="#000" stroke-width="0.08">3</text>
<text transform="translate(552.7,603.1) scale(1.08,1)" font-size="10.5" text-anchor="middle" fill="#000" stroke="#000" stroke-width="0.22">&#955;(&#197;)</text>
<text transform="translate(378.9,426.1) rotate(-90) scale(1,1.12)" font-size="10.75" text-anchor="middle" stroke="#000" stroke-width="0.22">F<tspan font-size="7.3" dy="2.5">&#955;</tspan><tspan dy="-2.5">(ergs/s/cm</tspan><tspan font-size="7.5" dy="-5.4">2</tspan><tspan dy="5.4" dx="1.1">/&#197;)</tspan></text>
<text transform="translate(382.2,549.6) rotate(-90) scale(1,1.12)" font-size="10.6" text-anchor="middle" stroke="#000" stroke-width="0.22">Residuals</text>
<text transform="translate(529.9,359.2) scale(1.09,1)" font-size="11.6" text-anchor="middle" fill="#000" stroke="#000" stroke-width="0.14">Star 30</text>
<text transform="translate(533.7,370.5) scale(1.095,1)" font-size="11.6" text-anchor="middle" fill="#000" stroke="#000" stroke-width="0.14">Temperature = 25000 K</text>
<rect x="624.8" y="338.8" width="64.6" height="96.2" rx="2" fill="#fff" fill-opacity="0.8" stroke="#e6e6e6" stroke-width="0.8"/>
<line x1="627.4" y1="345.5" x2="647.8" y2="345.5" stroke="#7f7f7f" stroke-width="1.9"/>
<text transform="translate(654.4,348.4) scale(1.11,1)" font-size="8.2" text-anchor="start" fill="#000" stroke="#000" stroke-width="0.12">model</text>
<ellipse cx="637.6" cy="357.9" rx="3.75" ry="3.55" fill="#ff0000"/>
<text transform="translate(654.4,360.8) scale(1.11,1)" font-size="8.2" text-anchor="start" fill="#000" stroke="#000" stroke-width="0.12">UVIT</text>
<path d="M637.6 366.2L641.45 373.2L633.75 373.2Z" fill="#1e90ff"/>
<text transform="translate(654.4,372.6) scale(1.11,1)" font-size="8.2" text-anchor="start" fill="#000" stroke="#000" stroke-width="0.12">GALEX</text>
<path d="M637.6 384.45L641.45 377.55L633.75 377.55Z" fill="#008000"/>
<text transform="translate(654.4,383.9) scale(1.11,1)" font-size="8.2" text-anchor="start" fill="#000" stroke="#000" stroke-width="0.12">GAIA</text>
<rect x="633.7" y="389.3" width="7.8" height="7.2" fill="#bf00bf"/>
<text transform="translate(654.4,395.8) scale(1.11,1)" font-size="8.2" text-anchor="start" fill="#000" stroke="#000" stroke-width="0.12">opt</text>
<path d="M637.6 401.2L641.45 408.2L633.75 408.2Z" fill="#ffa500"/>
<text transform="translate(654.4,407.6) scale(1.11,1)" font-size="8.2" text-anchor="start" fill="#000" stroke="#000" stroke-width="0.12">no fit</text>
<path d="M637.6 419.35L641.45 412.45L633.75 412.45Z" fill="#ffa500"/>
<text transform="translate(654.4,418.8) scale(1.11,1)" font-size="8.2" text-anchor="start" fill="#000" stroke="#000" stroke-width="0.12">no fit</text>
<line x1="637.6" y1="423.4" x2="637.6" y2="431.4" stroke="#000" stroke-width="1.4"/><line x1="633.3" y1="423.4" x2="641.9" y2="423.4" stroke="#d0d0d0" stroke-width="0.9"/><line x1="633.3" y1="431.4" x2="641.9" y2="431.4" stroke="#d0d0d0" stroke-width="0.9"/>
<text transform="translate(654.4,430.3) scale(1.11,1)" font-size="8.2" text-anchor="start" fill="#000" stroke="#000" stroke-width="0.12">3&#963;</text>
</svg>
</body></html>
